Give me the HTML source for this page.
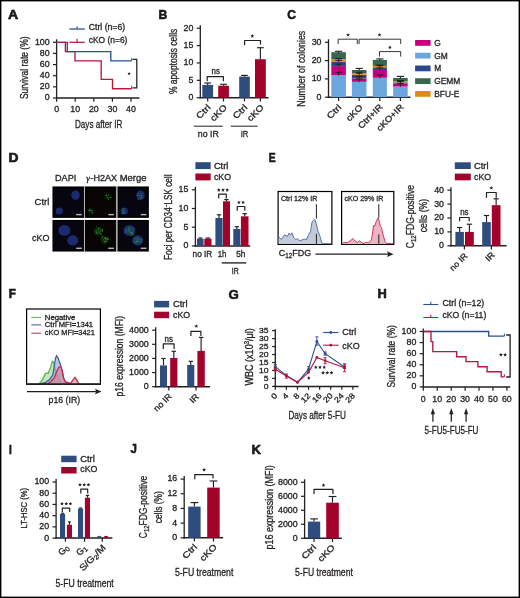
<!DOCTYPE html><html><head><meta charset="utf-8"><style>html,body{margin:0;padding:0;background:#fff}svg{display:block}text{font-family:"Liberation Sans",sans-serif;fill:#231f20;stroke:#231f20;stroke-width:0.3px}svg{will-change:transform}</style></head><body>
<svg width="520" height="598" viewBox="0 0 520 598">
<rect x="0" y="0" width="520" height="598" fill="#fff"/>
<text x="8" y="18.6" font-size="13.2" textLength="10.2" lengthAdjust="spacingAndGlyphs" font-weight="bold" fill="#000" style="stroke:#000;stroke-width:0.55px">A</text>
<text x="158.4" y="18.8" font-size="13.2" textLength="8.8" lengthAdjust="spacingAndGlyphs" font-weight="bold" fill="#000" style="stroke:#000;stroke-width:0.55px">B</text>
<text x="287.2" y="19" font-size="13.2" textLength="8.7" lengthAdjust="spacingAndGlyphs" font-weight="bold" fill="#000" style="stroke:#000;stroke-width:0.55px">C</text>
<text x="8.4" y="161.5" font-size="13.2" textLength="10" lengthAdjust="spacingAndGlyphs" font-weight="bold" fill="#000" style="stroke:#000;stroke-width:0.55px">D</text>
<text x="268.8" y="161.6" font-size="13.2" textLength="6.9" lengthAdjust="spacingAndGlyphs" font-weight="bold" fill="#000" style="stroke:#000;stroke-width:0.55px">E</text>
<text x="8.8" y="298.2" font-size="13.2" textLength="7.1" lengthAdjust="spacingAndGlyphs" font-weight="bold" fill="#000" style="stroke:#000;stroke-width:0.55px">F</text>
<text x="228.6" y="298.7" font-size="13.2" textLength="10.3" lengthAdjust="spacingAndGlyphs" font-weight="bold" fill="#000" style="stroke:#000;stroke-width:0.55px">G</text>
<text x="377.6" y="298.2" font-size="13.2" textLength="9.3" lengthAdjust="spacingAndGlyphs" font-weight="bold" fill="#000" style="stroke:#000;stroke-width:0.55px">H</text>
<text x="9" y="453.5" font-size="13.2" textLength="2.8" lengthAdjust="spacingAndGlyphs" font-weight="bold" fill="#000" style="stroke:#000;stroke-width:0.55px">I</text>
<text x="130.6" y="453.3" font-size="13.2" textLength="6.4" lengthAdjust="spacingAndGlyphs" font-weight="bold" fill="#000" style="stroke:#000;stroke-width:0.55px">J</text>
<text x="251.4" y="454.1" font-size="13.2" textLength="9.5" lengthAdjust="spacingAndGlyphs" font-weight="bold" fill="#000" style="stroke:#000;stroke-width:0.55px">K</text>
<line x1="56.6" y1="39.3" x2="56.6" y2="98.65" stroke="#231f20" stroke-width="1.3"/>
<line x1="53" y1="42.3" x2="56.6" y2="42.3" stroke="#231f20" stroke-width="1.2"/>
<text x="49.6" y="44.7" font-size="8.2" text-anchor="end" textLength="14.7" lengthAdjust="spacingAndGlyphs">100</text>
<line x1="53" y1="53.44" x2="56.6" y2="53.44" stroke="#231f20" stroke-width="1.2"/>
<text x="49.6" y="55.84" font-size="8.2" text-anchor="end" textLength="9.8" lengthAdjust="spacingAndGlyphs">80</text>
<line x1="53" y1="64.58" x2="56.6" y2="64.58" stroke="#231f20" stroke-width="1.2"/>
<text x="49.6" y="66.98" font-size="8.2" text-anchor="end" textLength="9.8" lengthAdjust="spacingAndGlyphs">60</text>
<line x1="53" y1="75.72" x2="56.6" y2="75.72" stroke="#231f20" stroke-width="1.2"/>
<text x="49.6" y="78.12" font-size="8.2" text-anchor="end" textLength="9.8" lengthAdjust="spacingAndGlyphs">40</text>
<line x1="53" y1="86.86" x2="56.6" y2="86.86" stroke="#231f20" stroke-width="1.2"/>
<text x="49.6" y="89.26" font-size="8.2" text-anchor="end" textLength="9.8" lengthAdjust="spacingAndGlyphs">20</text>
<line x1="53" y1="98" x2="56.6" y2="98" stroke="#231f20" stroke-width="1.2"/>
<text x="49.6" y="100.4" font-size="8.2" text-anchor="end" textLength="4.9" lengthAdjust="spacingAndGlyphs">0</text>
<line x1="55.85" y1="98" x2="139.4" y2="98" stroke="#231f20" stroke-width="1.5"/>
<line x1="56.6" y1="98" x2="56.6" y2="101.75" stroke="#231f20" stroke-width="1.2"/>
<line x1="75.2" y1="98" x2="75.2" y2="101.75" stroke="#231f20" stroke-width="1.2"/>
<line x1="93.8" y1="98" x2="93.8" y2="101.75" stroke="#231f20" stroke-width="1.2"/>
<line x1="112.4" y1="98" x2="112.4" y2="101.75" stroke="#231f20" stroke-width="1.2"/>
<line x1="131" y1="98" x2="131" y2="101.75" stroke="#231f20" stroke-width="1.2"/>
<text x="56.6" y="112.2" font-size="8.2" text-anchor="middle" textLength="4.9" lengthAdjust="spacingAndGlyphs">0</text>
<text x="75.2" y="112.2" font-size="8.2" text-anchor="middle" textLength="9.8" lengthAdjust="spacingAndGlyphs">10</text>
<text x="93.8" y="112.2" font-size="8.2" text-anchor="middle" textLength="9.8" lengthAdjust="spacingAndGlyphs">20</text>
<text x="112.4" y="112.2" font-size="8.2" text-anchor="middle" textLength="9.8" lengthAdjust="spacingAndGlyphs">30</text>
<text x="131" y="112.2" font-size="8.2" text-anchor="middle" textLength="9.8" lengthAdjust="spacingAndGlyphs">40</text>
<text x="98.7" y="128" font-size="10.9" text-anchor="middle" textLength="47.5" lengthAdjust="spacingAndGlyphs">Days after IR</text>
<text x="28.1" y="67.8" font-size="10.9" text-anchor="middle" textLength="62.6" lengthAdjust="spacingAndGlyphs" transform="rotate(-90 28.1 67.8)">Survival rate (%)</text>
<path d="M56.6 42.3H67.3V51.59H110.8V60.86H131.7" stroke="#2b4f98" stroke-width="1.35" fill="none"/>
<line x1="131.7" y1="57.86" x2="131.7" y2="60.86" stroke="#2b4f98" stroke-width="1"/>
<path d="M56.6 42.3H65.4V51.59H75V60.86H101.2V79.44H112.5V88.71H131.7" stroke="#b8153f" stroke-width="1.35" fill="none"/>
<line x1="131.7" y1="85.71" x2="131.7" y2="88.71" stroke="#b8153f" stroke-width="1"/>
<line x1="69.4" y1="29" x2="84.8" y2="29" stroke="#2b4f98" stroke-width="1.25"/>
<line x1="77.1" y1="26.2" x2="77.1" y2="29" stroke="#2b4f98" stroke-width="1.1"/>
<text x="88.8" y="30.1" font-size="8.6" textLength="36.3" lengthAdjust="spacingAndGlyphs">Ctrl (n=6)</text>
<line x1="69.4" y1="42.3" x2="84.8" y2="42.3" stroke="#b8153f" stroke-width="1.25"/>
<line x1="77.1" y1="38.8" x2="77.1" y2="42.3" stroke="#b8153f" stroke-width="1.1"/>
<text x="88.8" y="43.2" font-size="8.6" textLength="38.6" lengthAdjust="spacingAndGlyphs">cKO (n=6)</text>
<path d="M132.6 59.3H136.8V87.8H132.6" stroke="#231f20" stroke-width="1.25" fill="none"/>
<path d="M129.1 71.95L129.55 73.03L130.72 73.12L129.83 73.89L130.1 75.03L129.1 74.42L128.1 75.03L128.37 73.89L127.48 73.12L128.65 73.03Z" fill="#231f20"/>
<line x1="200.3" y1="25.2" x2="200.3" y2="98.35" stroke="#231f20" stroke-width="1.3"/>
<line x1="196.7" y1="28.2" x2="200.3" y2="28.2" stroke="#231f20" stroke-width="1.2"/>
<text x="193.3" y="30.6" font-size="8.2" text-anchor="end" textLength="9.8" lengthAdjust="spacingAndGlyphs">20</text>
<line x1="196.7" y1="45.58" x2="200.3" y2="45.58" stroke="#231f20" stroke-width="1.2"/>
<text x="193.3" y="47.98" font-size="8.2" text-anchor="end" textLength="9.8" lengthAdjust="spacingAndGlyphs">15</text>
<line x1="196.7" y1="62.95" x2="200.3" y2="62.95" stroke="#231f20" stroke-width="1.2"/>
<text x="193.3" y="65.35" font-size="8.2" text-anchor="end" textLength="9.8" lengthAdjust="spacingAndGlyphs">10</text>
<line x1="196.7" y1="80.33" x2="200.3" y2="80.33" stroke="#231f20" stroke-width="1.2"/>
<text x="193.3" y="82.73" font-size="8.2" text-anchor="end" textLength="4.9" lengthAdjust="spacingAndGlyphs">5</text>
<line x1="196.7" y1="97.7" x2="200.3" y2="97.7" stroke="#231f20" stroke-width="1.2"/>
<text x="193.3" y="100.1" font-size="8.2" text-anchor="end" textLength="4.9" lengthAdjust="spacingAndGlyphs">0</text>
<line x1="199.55" y1="97.7" x2="268.5" y2="97.7" stroke="#231f20" stroke-width="1.5"/>
<line x1="207.7" y1="97.7" x2="207.7" y2="101.45" stroke="#231f20" stroke-width="1.2"/>
<line x1="223.5" y1="97.7" x2="223.5" y2="101.45" stroke="#231f20" stroke-width="1.2"/>
<line x1="244.5" y1="97.7" x2="244.5" y2="101.45" stroke="#231f20" stroke-width="1.2"/>
<line x1="260.4" y1="97.7" x2="260.4" y2="101.45" stroke="#231f20" stroke-width="1.2"/>
<line x1="207.7" y1="84.9" x2="207.7" y2="83" stroke="#231f20" stroke-width="1.15"/>
<line x1="204.35" y1="83" x2="211.05" y2="83" stroke="#231f20" stroke-width="1.15"/>
<rect x="202.3" y="84.9" width="10.8" height="12.8" fill="#2e4c7e"/>
<line x1="223.55" y1="85.7" x2="223.55" y2="84.3" stroke="#231f20" stroke-width="1.15"/>
<line x1="220.23" y1="84.3" x2="226.87" y2="84.3" stroke="#231f20" stroke-width="1.15"/>
<rect x="218.2" y="85.7" width="10.7" height="12" fill="#a3022a"/>
<line x1="244.5" y1="76.6" x2="244.5" y2="75.4" stroke="#231f20" stroke-width="1.15"/>
<line x1="241.21" y1="75.4" x2="247.79" y2="75.4" stroke="#231f20" stroke-width="1.15"/>
<rect x="239.2" y="76.6" width="10.6" height="21.1" fill="#2e4c7e"/>
<line x1="260.4" y1="59.2" x2="260.4" y2="47.7" stroke="#231f20" stroke-width="1.15"/>
<line x1="257.05" y1="47.7" x2="263.75" y2="47.7" stroke="#231f20" stroke-width="1.15"/>
<rect x="255" y="59.2" width="10.8" height="38.5" fill="#a3022a"/>
<path d="M207.2 81.3V76.6H223.4V81.3" stroke="#231f20" stroke-width="1.2" fill="none" stroke-linejoin="round"/>
<text x="215.7" y="74.4" font-size="8.4" text-anchor="middle" textLength="8.4" lengthAdjust="spacingAndGlyphs">ns</text>
<path d="M244.6 45.3V40.5H260.5V44.6" stroke="#231f20" stroke-width="1.2" fill="none" stroke-linejoin="round"/>
<path d="M252.3 34.05L252.83 35.32L254.2 35.43L253.16 36.33L253.48 37.67L252.3 36.95L251.12 37.67L251.44 36.33L250.4 35.43L251.77 35.32Z" fill="#231f20"/>
<text x="176.6" y="61.4" font-size="10.9" text-anchor="middle" textLength="65.3" lengthAdjust="spacingAndGlyphs" transform="rotate(-90 176.6 61.4)">% apoptosis cells</text>
<text x="211.2" y="107.9" font-size="8.6" text-anchor="end" textLength="16.5" lengthAdjust="spacingAndGlyphs" transform="rotate(-45 211.2 107.9)">Ctrl</text>
<text x="227.5" y="107.9" font-size="8.6" text-anchor="end" textLength="19.5" lengthAdjust="spacingAndGlyphs" transform="rotate(-45 227.5 107.9)">cKO</text>
<text x="248" y="107.9" font-size="8.6" text-anchor="end" textLength="16.5" lengthAdjust="spacingAndGlyphs" transform="rotate(-45 248 107.9)">Ctrl</text>
<text x="264.4" y="107.9" font-size="8.6" text-anchor="end" textLength="19.5" lengthAdjust="spacingAndGlyphs" transform="rotate(-45 264.4 107.9)">cKO</text>
<line x1="193.8" y1="126.2" x2="222.8" y2="126.2" stroke="#231f20" stroke-width="1"/>
<line x1="230.8" y1="126.2" x2="257.7" y2="126.2" stroke="#231f20" stroke-width="1"/>
<text x="208.3" y="137.3" font-size="8.6" text-anchor="middle" textLength="21" lengthAdjust="spacingAndGlyphs">no IR</text>
<text x="244.5" y="137.3" font-size="8.6" text-anchor="middle" textLength="7.6" lengthAdjust="spacingAndGlyphs">IR</text>
<line x1="328.5" y1="39.3" x2="328.5" y2="97.85" stroke="#231f20" stroke-width="1.3"/>
<line x1="324.9" y1="42.3" x2="328.5" y2="42.3" stroke="#231f20" stroke-width="1.2"/>
<text x="321.5" y="44.7" font-size="8.2" text-anchor="end" textLength="9.8" lengthAdjust="spacingAndGlyphs">30</text>
<line x1="324.9" y1="60.6" x2="328.5" y2="60.6" stroke="#231f20" stroke-width="1.2"/>
<text x="321.5" y="63" font-size="8.2" text-anchor="end" textLength="9.8" lengthAdjust="spacingAndGlyphs">20</text>
<line x1="324.9" y1="78.9" x2="328.5" y2="78.9" stroke="#231f20" stroke-width="1.2"/>
<text x="321.5" y="81.3" font-size="8.2" text-anchor="end" textLength="9.8" lengthAdjust="spacingAndGlyphs">10</text>
<line x1="324.9" y1="97.2" x2="328.5" y2="97.2" stroke="#231f20" stroke-width="1.2"/>
<text x="321.5" y="99.6" font-size="8.2" text-anchor="end" textLength="4.9" lengthAdjust="spacingAndGlyphs">0</text>
<line x1="327.75" y1="97.2" x2="410.4" y2="97.2" stroke="#231f20" stroke-width="1.5"/>
<line x1="338.6" y1="97.2" x2="338.6" y2="100.95" stroke="#231f20" stroke-width="1.2"/>
<line x1="359.2" y1="97.2" x2="359.2" y2="100.95" stroke="#231f20" stroke-width="1.2"/>
<line x1="379.8" y1="97.2" x2="379.8" y2="100.95" stroke="#231f20" stroke-width="1.2"/>
<line x1="400.4" y1="97.2" x2="400.4" y2="100.95" stroke="#231f20" stroke-width="1.2"/>
<rect x="331.3" y="75.1" width="14.6" height="22.1" fill="#6ba7de"/>
<rect x="331.3" y="66.1" width="14.6" height="9" fill="#c6007a"/>
<rect x="331.3" y="61.9" width="14.6" height="4.2" fill="#2b4a8b"/>
<rect x="331.3" y="59.3" width="14.6" height="2.6" fill="#e08b17"/>
<rect x="331.3" y="52.2" width="14.6" height="7.1" fill="#366850"/>
<line x1="335" y1="51.3" x2="342.2" y2="51.3" stroke="#231f20" stroke-width="1.1"/>
<line x1="338.6" y1="51.3" x2="338.6" y2="52.7" stroke="#231f20" stroke-width="1.1"/>
<line x1="335.2" y1="72.3" x2="342" y2="72.3" stroke="#231f20" stroke-width="1"/>
<line x1="338.6" y1="72.3" x2="338.6" y2="75.4" stroke="#231f20" stroke-width="1"/>
<line x1="335.2" y1="64.1" x2="342" y2="64.1" stroke="#231f20" stroke-width="1"/>
<line x1="338.6" y1="64.1" x2="338.6" y2="66.4" stroke="#231f20" stroke-width="1"/>
<line x1="335.2" y1="60.3" x2="342" y2="60.3" stroke="#231f20" stroke-width="1"/>
<line x1="338.6" y1="60.3" x2="338.6" y2="62.2" stroke="#231f20" stroke-width="1"/>
<line x1="335.2" y1="58.5" x2="342" y2="58.5" stroke="#231f20" stroke-width="1"/>
<line x1="338.6" y1="58.5" x2="338.6" y2="59.6" stroke="#231f20" stroke-width="1"/>
<rect x="351.9" y="81.8" width="14.6" height="15.4" fill="#6ba7de"/>
<rect x="351.9" y="78.5" width="14.6" height="3.3" fill="#c6007a"/>
<rect x="351.9" y="74.8" width="14.6" height="3.7" fill="#2b4a8b"/>
<rect x="351.9" y="73.1" width="14.6" height="1.7" fill="#e08b17"/>
<rect x="351.9" y="70" width="14.6" height="3.1" fill="#366850"/>
<line x1="355.6" y1="68.4" x2="362.8" y2="68.4" stroke="#231f20" stroke-width="1.1"/>
<line x1="359.2" y1="68.4" x2="359.2" y2="70.5" stroke="#231f20" stroke-width="1.1"/>
<line x1="355.8" y1="79" x2="362.6" y2="79" stroke="#231f20" stroke-width="1"/>
<line x1="359.2" y1="79" x2="359.2" y2="82.1" stroke="#231f20" stroke-width="1"/>
<line x1="355.8" y1="76.5" x2="362.6" y2="76.5" stroke="#231f20" stroke-width="1"/>
<line x1="359.2" y1="76.5" x2="359.2" y2="78.8" stroke="#231f20" stroke-width="1"/>
<line x1="355.8" y1="73.2" x2="362.6" y2="73.2" stroke="#231f20" stroke-width="1"/>
<line x1="359.2" y1="73.2" x2="359.2" y2="75.1" stroke="#231f20" stroke-width="1"/>
<line x1="355.8" y1="72.3" x2="362.6" y2="72.3" stroke="#231f20" stroke-width="1"/>
<line x1="359.2" y1="72.3" x2="359.2" y2="73.4" stroke="#231f20" stroke-width="1"/>
<rect x="372.8" y="77.8" width="14.1" height="19.4" fill="#6ba7de"/>
<rect x="372.8" y="70" width="14.1" height="7.8" fill="#c6007a"/>
<rect x="372.8" y="67.3" width="14.1" height="2.7" fill="#2b4a8b"/>
<rect x="372.8" y="65.9" width="14.1" height="1.4" fill="#e08b17"/>
<rect x="372.8" y="59.9" width="14.1" height="6" fill="#366850"/>
<line x1="376.25" y1="58.9" x2="383.45" y2="58.9" stroke="#231f20" stroke-width="1.1"/>
<line x1="379.85" y1="58.9" x2="379.85" y2="60.4" stroke="#231f20" stroke-width="1.1"/>
<line x1="376.45" y1="75" x2="383.25" y2="75" stroke="#231f20" stroke-width="1"/>
<line x1="379.85" y1="75" x2="379.85" y2="78.1" stroke="#231f20" stroke-width="1"/>
<line x1="376.45" y1="68" x2="383.25" y2="68" stroke="#231f20" stroke-width="1"/>
<line x1="379.85" y1="68" x2="379.85" y2="70.3" stroke="#231f20" stroke-width="1"/>
<line x1="376.45" y1="65.7" x2="383.25" y2="65.7" stroke="#231f20" stroke-width="1"/>
<line x1="379.85" y1="65.7" x2="379.85" y2="67.6" stroke="#231f20" stroke-width="1"/>
<line x1="376.45" y1="65.1" x2="383.25" y2="65.1" stroke="#231f20" stroke-width="1"/>
<line x1="379.85" y1="65.1" x2="379.85" y2="66.2" stroke="#231f20" stroke-width="1"/>
<rect x="393.1" y="86.5" width="14.6" height="10.7" fill="#6ba7de"/>
<rect x="393.1" y="83.6" width="14.6" height="2.9" fill="#c6007a"/>
<rect x="393.1" y="82.4" width="14.6" height="1.2" fill="#2b4a8b"/>
<rect x="393.1" y="81.2" width="14.6" height="1.2" fill="#e08b17"/>
<rect x="393.1" y="78" width="14.6" height="3.2" fill="#366850"/>
<line x1="396.8" y1="76.4" x2="404" y2="76.4" stroke="#231f20" stroke-width="1.1"/>
<line x1="400.4" y1="76.4" x2="400.4" y2="78.5" stroke="#231f20" stroke-width="1.1"/>
<line x1="397" y1="83.7" x2="403.8" y2="83.7" stroke="#231f20" stroke-width="1"/>
<line x1="400.4" y1="83.7" x2="400.4" y2="86.8" stroke="#231f20" stroke-width="1"/>
<line x1="397" y1="81.6" x2="403.8" y2="81.6" stroke="#231f20" stroke-width="1"/>
<line x1="400.4" y1="81.6" x2="400.4" y2="83.9" stroke="#231f20" stroke-width="1"/>
<line x1="397" y1="80.8" x2="403.8" y2="80.8" stroke="#231f20" stroke-width="1"/>
<line x1="400.4" y1="80.8" x2="400.4" y2="82.7" stroke="#231f20" stroke-width="1"/>
<line x1="397" y1="80.4" x2="403.8" y2="80.4" stroke="#231f20" stroke-width="1"/>
<line x1="400.4" y1="80.4" x2="400.4" y2="81.5" stroke="#231f20" stroke-width="1"/>
<path d="M338.2 44.1V39.2H357.3V44.1" stroke="#231f20" stroke-width="0.9" fill="none"/>
<path d="M359.1 44.1V39.2H400.7V44.1" stroke="#231f20" stroke-width="0.9" fill="none"/>
<path d="M348.1 32.95L348.63 34.22L350 34.33L348.96 35.23L349.28 36.57L348.1 35.85L346.92 36.57L347.24 35.23L346.2 34.33L347.57 34.22Z" fill="#231f20"/>
<path d="M379.5 32.95L380.03 34.22L381.4 34.33L380.36 35.23L380.68 36.57L379.5 35.85L378.32 36.57L378.64 35.23L377.6 34.33L378.97 34.22Z" fill="#231f20"/>
<path d="M379.5 56.6V51.6H400.7V56.6" stroke="#231f20" stroke-width="0.9" fill="none"/>
<path d="M389.9 45.45L390.43 46.72L391.8 46.83L390.76 47.73L391.08 49.07L389.9 48.35L388.72 49.07L389.04 47.73L388 46.83L389.37 46.72Z" fill="#231f20"/>
<rect x="415.1" y="40" width="15.5" height="5.8" fill="#c6007a"/>
<text x="434.2" y="45.8" font-size="8.4">G</text>
<rect x="415.1" y="52.75" width="15.5" height="5.8" fill="#6ba7de"/>
<text x="434.2" y="58.55" font-size="8.4">GM</text>
<rect x="415.1" y="65.5" width="15.5" height="5.8" fill="#2b4a8b"/>
<text x="434.2" y="71.3" font-size="8.4">M</text>
<rect x="415.1" y="78.25" width="15.5" height="5.8" fill="#366850"/>
<text x="434.2" y="84.05" font-size="8.4">GEMM</text>
<rect x="415.1" y="91" width="15.5" height="5.8" fill="#e08b17"/>
<text x="434.2" y="96.8" font-size="8.4">BFU-E</text>
<text x="304.6" y="68.7" font-size="10.9" text-anchor="middle" textLength="75.9" lengthAdjust="spacingAndGlyphs" transform="rotate(-90 304.6 68.7)">Number of colonies</text>
<text x="342" y="107.9" font-size="8.6" text-anchor="end" textLength="16.5" lengthAdjust="spacingAndGlyphs" transform="rotate(-45 342 107.9)">Ctrl</text>
<text x="363.2" y="107.9" font-size="8.6" text-anchor="end" textLength="19.5" lengthAdjust="spacingAndGlyphs" transform="rotate(-45 363.2 107.9)">cKO</text>
<text x="383.2" y="107.6" font-size="8.6" text-anchor="end" textLength="30.5" lengthAdjust="spacingAndGlyphs" transform="rotate(-45 383.2 107.6)">Ctrl+IR</text>
<text x="404.1" y="107.6" font-size="8.6" text-anchor="end" textLength="34" lengthAdjust="spacingAndGlyphs" transform="rotate(-45 404.1 107.6)">cKO+IR</text>
<defs><filter id="bl1" x="-50%" y="-50%" width="200%" height="200%"><feGaussianBlur stdDeviation="0.9"/></filter><filter id="bl1b" x="-50%" y="-50%" width="200%" height="200%"><feGaussianBlur stdDeviation="0.6"/></filter><filter id="bl2" x="-50%" y="-50%" width="200%" height="200%"><feGaussianBlur stdDeviation="0.45"/></filter><clipPath id="cpA"><rect x="53" y="187" width="30.6" height="30.3"/></clipPath></defs>
<text x="49.3" y="205.2" font-size="9.6" text-anchor="end" textLength="14.7" lengthAdjust="spacingAndGlyphs">Ctrl</text>
<text x="49.6" y="241" font-size="9.6" text-anchor="end" textLength="17.5" lengthAdjust="spacingAndGlyphs">cKO</text>
<text x="55" y="181.1" font-size="8.6" textLength="21.3" lengthAdjust="spacingAndGlyphs">DAPI</text>
<text x="86.2" y="181.1" font-size="9" style="font-family:&quot;Liberation Serif&quot;,serif;font-style:italic">&#947;</text>
<text x="90.4" y="181.1" font-size="8.6" textLength="26.8" lengthAdjust="spacingAndGlyphs">-H2AX</text>
<text x="119.7" y="181.1" font-size="8.6" textLength="26.8" lengthAdjust="spacingAndGlyphs">Merge</text>
<rect x="53" y="187" width="30.7" height="30.3" fill="#07060f" stroke="#000" stroke-width="1.1"/>
<ellipse cx="75.5" cy="195.2" rx="4.2" ry="4.8" fill="#1c2a72" filter="url(#bl1b)"/>
<ellipse cx="59.3" cy="211" rx="3.6" ry="3.6" fill="#1c2a72" filter="url(#bl1b)"/>
<rect x="76.2" y="213.9" width="5.6" height="1.4" fill="#b8b8b8"/>
<rect x="85.5" y="187" width="30.3" height="30.3" fill="#080404" stroke="#000" stroke-width="1.1"/>
<ellipse cx="108.1" cy="196.4" rx="3.04" ry="3.04" fill="#1c7a1c" opacity="0.2" filter="url(#bl1)"/>
<circle cx="107.47" cy="197.66" r="0.5" fill="#3ccf3c" opacity="0.8" filter="url(#bl2)"/>
<circle cx="110.42" cy="197.53" r="0.41" fill="#3ccf3c" opacity="0.8" filter="url(#bl2)"/>
<circle cx="110.43" cy="197.29" r="0.31" fill="#3ccf3c" opacity="0.8" filter="url(#bl2)"/>
<circle cx="107.04" cy="196.87" r="0.33" fill="#3ccf3c" opacity="0.8" filter="url(#bl2)"/>
<circle cx="105.02" cy="197.98" r="0.34" fill="#3ccf3c" opacity="0.8" filter="url(#bl2)"/>
<circle cx="108.58" cy="199.22" r="0.58" fill="#3ccf3c" opacity="0.8" filter="url(#bl2)"/>
<circle cx="106.19" cy="195.4" r="0.59" fill="#3ccf3c" opacity="0.8" filter="url(#bl2)"/>
<circle cx="111.51" cy="197.43" r="0.39" fill="#3ccf3c" opacity="0.8" filter="url(#bl2)"/>
<circle cx="108.91" cy="197.43" r="0.39" fill="#3ccf3c" opacity="0.8" filter="url(#bl2)"/>
<circle cx="108.71" cy="195.03" r="0.47" fill="#3ccf3c" opacity="0.8" filter="url(#bl2)"/>
<circle cx="106.76" cy="194.8" r="0.46" fill="#3ccf3c" opacity="0.8" filter="url(#bl2)"/>
<ellipse cx="91" cy="211.6" rx="2.56" ry="2.56" fill="#1c7a1c" opacity="0.2" filter="url(#bl1)"/>
<circle cx="91.88" cy="211.97" r="0.36" fill="#3ccf3c" opacity="0.8" filter="url(#bl2)"/>
<circle cx="90.2" cy="209.88" r="0.39" fill="#3ccf3c" opacity="0.8" filter="url(#bl2)"/>
<circle cx="89.32" cy="210.6" r="0.39" fill="#3ccf3c" opacity="0.8" filter="url(#bl2)"/>
<circle cx="91.71" cy="209.11" r="0.37" fill="#3ccf3c" opacity="0.8" filter="url(#bl2)"/>
<circle cx="89.09" cy="210.63" r="0.56" fill="#3ccf3c" opacity="0.8" filter="url(#bl2)"/>
<circle cx="90.8" cy="210.08" r="0.59" fill="#3ccf3c" opacity="0.8" filter="url(#bl2)"/>
<circle cx="92.38" cy="212.86" r="0.53" fill="#3ccf3c" opacity="0.8" filter="url(#bl2)"/>
<circle cx="92.19" cy="213.27" r="0.31" fill="#3ccf3c" opacity="0.8" filter="url(#bl2)"/>
<circle cx="89.64" cy="209.2" r="0.47" fill="#3ccf3c" opacity="0.8" filter="url(#bl2)"/>
<circle cx="92.14" cy="210.47" r="0.51" fill="#3ccf3c" opacity="0.8" filter="url(#bl2)"/>
<circle cx="89.11" cy="210.32" r="0.44" fill="#3ccf3c" opacity="0.8" filter="url(#bl2)"/>
<rect x="108.3" y="213.9" width="5.6" height="1.4" fill="#b8b8b8"/>
<rect x="118" y="187" width="30.3" height="30.3" fill="#07060f" stroke="#000" stroke-width="1.1"/>
<ellipse cx="140.5" cy="195.2" rx="4.2" ry="4.8" fill="#1c2a72" filter="url(#bl1b)"/>
<ellipse cx="124.3" cy="211" rx="3.6" ry="3.6" fill="#1c2a72" filter="url(#bl1b)"/>
<ellipse cx="140.6" cy="196.4" rx="3.04" ry="3.04" fill="#1c7a1c" opacity="0.15" filter="url(#bl1)"/>
<circle cx="142.65" cy="193.17" r="0.44" fill="#3ccf3c" opacity="0.6" filter="url(#bl2)"/>
<circle cx="140.02" cy="195.43" r="0.51" fill="#3ccf3c" opacity="0.6" filter="url(#bl2)"/>
<circle cx="138.21" cy="193.23" r="0.55" fill="#3ccf3c" opacity="0.6" filter="url(#bl2)"/>
<circle cx="140.14" cy="198.47" r="0.5" fill="#3ccf3c" opacity="0.6" filter="url(#bl2)"/>
<circle cx="142.93" cy="196.73" r="0.35" fill="#3ccf3c" opacity="0.6" filter="url(#bl2)"/>
<circle cx="141.44" cy="197.16" r="0.53" fill="#3ccf3c" opacity="0.6" filter="url(#bl2)"/>
<circle cx="141.77" cy="197.64" r="0.42" fill="#3ccf3c" opacity="0.6" filter="url(#bl2)"/>
<circle cx="141.43" cy="195.54" r="0.43" fill="#3ccf3c" opacity="0.6" filter="url(#bl2)"/>
<circle cx="137.14" cy="195.29" r="0.55" fill="#3ccf3c" opacity="0.6" filter="url(#bl2)"/>
<circle cx="141.78" cy="195.04" r="0.42" fill="#3ccf3c" opacity="0.6" filter="url(#bl2)"/>
<circle cx="138.3" cy="199.22" r="0.59" fill="#3ccf3c" opacity="0.6" filter="url(#bl2)"/>
<ellipse cx="123.5" cy="211.6" rx="2.56" ry="2.56" fill="#1c7a1c" opacity="0.15" filter="url(#bl1)"/>
<circle cx="124.23" cy="212.62" r="0.37" fill="#3ccf3c" opacity="0.6" filter="url(#bl2)"/>
<circle cx="123.71" cy="213.63" r="0.48" fill="#3ccf3c" opacity="0.6" filter="url(#bl2)"/>
<circle cx="123.44" cy="212.41" r="0.43" fill="#3ccf3c" opacity="0.6" filter="url(#bl2)"/>
<circle cx="121.97" cy="213.25" r="0.59" fill="#3ccf3c" opacity="0.6" filter="url(#bl2)"/>
<circle cx="122.73" cy="209.63" r="0.49" fill="#3ccf3c" opacity="0.6" filter="url(#bl2)"/>
<circle cx="123.08" cy="210.76" r="0.57" fill="#3ccf3c" opacity="0.6" filter="url(#bl2)"/>
<circle cx="124.07" cy="208.61" r="0.54" fill="#3ccf3c" opacity="0.6" filter="url(#bl2)"/>
<circle cx="122.08" cy="212.74" r="0.33" fill="#3ccf3c" opacity="0.6" filter="url(#bl2)"/>
<circle cx="122.86" cy="210.88" r="0.32" fill="#3ccf3c" opacity="0.6" filter="url(#bl2)"/>
<circle cx="123.81" cy="212.77" r="0.4" fill="#3ccf3c" opacity="0.6" filter="url(#bl2)"/>
<circle cx="124.26" cy="211.86" r="0.35" fill="#3ccf3c" opacity="0.6" filter="url(#bl2)"/>
<rect x="140.8" y="213.9" width="5.6" height="1.4" fill="#b8b8b8"/>
<rect x="53" y="220.5" width="30.7" height="30.5" fill="#07060f" stroke="#000" stroke-width="1.1"/>
<ellipse cx="64.4" cy="230.4" rx="6" ry="5.4" fill="#1c2a72" filter="url(#bl1b)"/>
<ellipse cx="72.7" cy="240.4" rx="5.5" ry="5.2" fill="#1c2a72" filter="url(#bl1b)"/>
<rect x="76.2" y="247.6" width="5.6" height="1.4" fill="#b8b8b8"/>
<rect x="85.5" y="220.5" width="30.3" height="30.5" fill="#080404" stroke="#000" stroke-width="1.1"/>
<ellipse cx="98" cy="231.3" rx="3.6" ry="3.6" fill="#1c7a1c" opacity="0.45" filter="url(#bl1)"/>
<circle cx="99.96" cy="232.75" r="0.31" fill="#3ccf3c" opacity="0.8" filter="url(#bl2)"/>
<circle cx="100.35" cy="228.93" r="0.34" fill="#3ccf3c" opacity="0.8" filter="url(#bl2)"/>
<circle cx="97.97" cy="233.68" r="0.41" fill="#3ccf3c" opacity="0.8" filter="url(#bl2)"/>
<circle cx="101" cy="234.22" r="0.6" fill="#3ccf3c" opacity="0.8" filter="url(#bl2)"/>
<circle cx="95.2" cy="231.91" r="0.33" fill="#3ccf3c" opacity="0.8" filter="url(#bl2)"/>
<circle cx="99.89" cy="232.71" r="0.38" fill="#3ccf3c" opacity="0.8" filter="url(#bl2)"/>
<circle cx="98.81" cy="229.8" r="0.31" fill="#3ccf3c" opacity="0.8" filter="url(#bl2)"/>
<circle cx="100.88" cy="230.38" r="0.34" fill="#3ccf3c" opacity="0.8" filter="url(#bl2)"/>
<circle cx="96.82" cy="230.97" r="0.46" fill="#3ccf3c" opacity="0.8" filter="url(#bl2)"/>
<circle cx="102.19" cy="230.73" r="0.51" fill="#3ccf3c" opacity="0.8" filter="url(#bl2)"/>
<circle cx="97.83" cy="233.74" r="0.35" fill="#3ccf3c" opacity="0.8" filter="url(#bl2)"/>
<circle cx="98.42" cy="228.29" r="0.53" fill="#3ccf3c" opacity="0.8" filter="url(#bl2)"/>
<circle cx="97.07" cy="232.99" r="0.54" fill="#3ccf3c" opacity="0.8" filter="url(#bl2)"/>
<circle cx="102.18" cy="230.9" r="0.54" fill="#3ccf3c" opacity="0.8" filter="url(#bl2)"/>
<circle cx="99.58" cy="227.86" r="0.37" fill="#3ccf3c" opacity="0.8" filter="url(#bl2)"/>
<circle cx="95.61" cy="231.03" r="0.31" fill="#3ccf3c" opacity="0.8" filter="url(#bl2)"/>
<circle cx="100.1" cy="231.67" r="0.38" fill="#3ccf3c" opacity="0.8" filter="url(#bl2)"/>
<circle cx="96.39" cy="227.03" r="0.43" fill="#3ccf3c" opacity="0.8" filter="url(#bl2)"/>
<circle cx="102.32" cy="229.49" r="0.59" fill="#3ccf3c" opacity="0.8" filter="url(#bl2)"/>
<circle cx="96.73" cy="232.74" r="0.37" fill="#3ccf3c" opacity="0.8" filter="url(#bl2)"/>
<ellipse cx="104.8" cy="240" rx="3.36" ry="3.36" fill="#1c7a1c" opacity="0.45" filter="url(#bl1)"/>
<circle cx="105.37" cy="241.64" r="0.49" fill="#3ccf3c" opacity="0.8" filter="url(#bl2)"/>
<circle cx="107.94" cy="237.73" r="0.44" fill="#3ccf3c" opacity="0.8" filter="url(#bl2)"/>
<circle cx="102.66" cy="236.94" r="0.33" fill="#3ccf3c" opacity="0.8" filter="url(#bl2)"/>
<circle cx="102.61" cy="236.52" r="0.53" fill="#3ccf3c" opacity="0.8" filter="url(#bl2)"/>
<circle cx="104.8" cy="237.34" r="0.35" fill="#3ccf3c" opacity="0.8" filter="url(#bl2)"/>
<circle cx="105.33" cy="237.9" r="0.54" fill="#3ccf3c" opacity="0.8" filter="url(#bl2)"/>
<circle cx="107.14" cy="239.58" r="0.42" fill="#3ccf3c" opacity="0.8" filter="url(#bl2)"/>
<circle cx="108.09" cy="238.86" r="0.35" fill="#3ccf3c" opacity="0.8" filter="url(#bl2)"/>
<circle cx="105.89" cy="241.12" r="0.57" fill="#3ccf3c" opacity="0.8" filter="url(#bl2)"/>
<circle cx="105.34" cy="238.55" r="0.55" fill="#3ccf3c" opacity="0.8" filter="url(#bl2)"/>
<circle cx="108.03" cy="239.6" r="0.41" fill="#3ccf3c" opacity="0.8" filter="url(#bl2)"/>
<circle cx="103.38" cy="239.55" r="0.3" fill="#3ccf3c" opacity="0.8" filter="url(#bl2)"/>
<circle cx="107.98" cy="239.41" r="0.46" fill="#3ccf3c" opacity="0.8" filter="url(#bl2)"/>
<circle cx="107.09" cy="238.98" r="0.56" fill="#3ccf3c" opacity="0.8" filter="url(#bl2)"/>
<circle cx="105.61" cy="238.44" r="0.38" fill="#3ccf3c" opacity="0.8" filter="url(#bl2)"/>
<circle cx="104.3" cy="241.79" r="0.48" fill="#3ccf3c" opacity="0.8" filter="url(#bl2)"/>
<circle cx="104.66" cy="242.45" r="0.34" fill="#3ccf3c" opacity="0.8" filter="url(#bl2)"/>
<circle cx="106.69" cy="238.8" r="0.44" fill="#3ccf3c" opacity="0.8" filter="url(#bl2)"/>
<circle cx="101.26" cy="237.96" r="0.43" fill="#3ccf3c" opacity="0.8" filter="url(#bl2)"/>
<circle cx="107.18" cy="238.65" r="0.46" fill="#3ccf3c" opacity="0.8" filter="url(#bl2)"/>
<rect x="108.3" y="247.6" width="5.6" height="1.4" fill="#b8b8b8"/>
<rect x="118" y="220.5" width="30.3" height="30.5" fill="#07060f" stroke="#000" stroke-width="1.1"/>
<ellipse cx="129.4" cy="230.4" rx="6" ry="5.4" fill="#1c2a72" filter="url(#bl1b)"/>
<ellipse cx="137.7" cy="240.4" rx="5.5" ry="5.2" fill="#1c2a72" filter="url(#bl1b)"/>
<ellipse cx="130.5" cy="231.3" rx="3.6" ry="3.6" fill="#1c7a1c" opacity="0.34" filter="url(#bl1)"/>
<circle cx="129.32" cy="231.12" r="0.43" fill="#3ccf3c" opacity="0.6" filter="url(#bl2)"/>
<circle cx="130.96" cy="232.34" r="0.54" fill="#3ccf3c" opacity="0.6" filter="url(#bl2)"/>
<circle cx="131.83" cy="233.8" r="0.52" fill="#3ccf3c" opacity="0.6" filter="url(#bl2)"/>
<circle cx="128.34" cy="230.5" r="0.46" fill="#3ccf3c" opacity="0.6" filter="url(#bl2)"/>
<circle cx="126.79" cy="229.95" r="0.33" fill="#3ccf3c" opacity="0.6" filter="url(#bl2)"/>
<circle cx="128.62" cy="230.55" r="0.38" fill="#3ccf3c" opacity="0.6" filter="url(#bl2)"/>
<circle cx="130.91" cy="228.38" r="0.47" fill="#3ccf3c" opacity="0.6" filter="url(#bl2)"/>
<circle cx="130.78" cy="226.9" r="0.43" fill="#3ccf3c" opacity="0.6" filter="url(#bl2)"/>
<circle cx="128.26" cy="229.39" r="0.45" fill="#3ccf3c" opacity="0.6" filter="url(#bl2)"/>
<circle cx="129.53" cy="228.72" r="0.46" fill="#3ccf3c" opacity="0.6" filter="url(#bl2)"/>
<circle cx="126.03" cy="231.92" r="0.51" fill="#3ccf3c" opacity="0.6" filter="url(#bl2)"/>
<circle cx="133.72" cy="228.14" r="0.38" fill="#3ccf3c" opacity="0.6" filter="url(#bl2)"/>
<circle cx="126.29" cy="229.65" r="0.55" fill="#3ccf3c" opacity="0.6" filter="url(#bl2)"/>
<circle cx="131.52" cy="232.49" r="0.43" fill="#3ccf3c" opacity="0.6" filter="url(#bl2)"/>
<circle cx="132.29" cy="232.18" r="0.32" fill="#3ccf3c" opacity="0.6" filter="url(#bl2)"/>
<circle cx="128.59" cy="227.85" r="0.57" fill="#3ccf3c" opacity="0.6" filter="url(#bl2)"/>
<circle cx="132.59" cy="234.36" r="0.5" fill="#3ccf3c" opacity="0.6" filter="url(#bl2)"/>
<circle cx="133.18" cy="234.67" r="0.59" fill="#3ccf3c" opacity="0.6" filter="url(#bl2)"/>
<circle cx="131.37" cy="235.77" r="0.42" fill="#3ccf3c" opacity="0.6" filter="url(#bl2)"/>
<circle cx="125.83" cy="231.68" r="0.55" fill="#3ccf3c" opacity="0.6" filter="url(#bl2)"/>
<ellipse cx="137.3" cy="240" rx="3.36" ry="3.36" fill="#1c7a1c" opacity="0.34" filter="url(#bl1)"/>
<circle cx="138.62" cy="242.12" r="0.45" fill="#3ccf3c" opacity="0.6" filter="url(#bl2)"/>
<circle cx="136.39" cy="241.45" r="0.4" fill="#3ccf3c" opacity="0.6" filter="url(#bl2)"/>
<circle cx="137.11" cy="238.9" r="0.47" fill="#3ccf3c" opacity="0.6" filter="url(#bl2)"/>
<circle cx="136.27" cy="240.41" r="0.4" fill="#3ccf3c" opacity="0.6" filter="url(#bl2)"/>
<circle cx="135.33" cy="238.05" r="0.32" fill="#3ccf3c" opacity="0.6" filter="url(#bl2)"/>
<circle cx="140.98" cy="239.65" r="0.59" fill="#3ccf3c" opacity="0.6" filter="url(#bl2)"/>
<circle cx="138.84" cy="241.19" r="0.31" fill="#3ccf3c" opacity="0.6" filter="url(#bl2)"/>
<circle cx="137.65" cy="238.07" r="0.34" fill="#3ccf3c" opacity="0.6" filter="url(#bl2)"/>
<circle cx="133.67" cy="241.93" r="0.55" fill="#3ccf3c" opacity="0.6" filter="url(#bl2)"/>
<circle cx="137.22" cy="241.55" r="0.58" fill="#3ccf3c" opacity="0.6" filter="url(#bl2)"/>
<circle cx="134.23" cy="238.54" r="0.33" fill="#3ccf3c" opacity="0.6" filter="url(#bl2)"/>
<circle cx="140.45" cy="241.19" r="0.43" fill="#3ccf3c" opacity="0.6" filter="url(#bl2)"/>
<circle cx="141.08" cy="241.85" r="0.49" fill="#3ccf3c" opacity="0.6" filter="url(#bl2)"/>
<circle cx="137.72" cy="238.74" r="0.56" fill="#3ccf3c" opacity="0.6" filter="url(#bl2)"/>
<circle cx="140.91" cy="241.61" r="0.44" fill="#3ccf3c" opacity="0.6" filter="url(#bl2)"/>
<circle cx="135.75" cy="242.46" r="0.58" fill="#3ccf3c" opacity="0.6" filter="url(#bl2)"/>
<circle cx="137.13" cy="241.47" r="0.46" fill="#3ccf3c" opacity="0.6" filter="url(#bl2)"/>
<circle cx="137.4" cy="241.41" r="0.35" fill="#3ccf3c" opacity="0.6" filter="url(#bl2)"/>
<circle cx="138.94" cy="240.54" r="0.39" fill="#3ccf3c" opacity="0.6" filter="url(#bl2)"/>
<circle cx="136.08" cy="243.39" r="0.39" fill="#3ccf3c" opacity="0.6" filter="url(#bl2)"/>
<rect x="140.8" y="247.6" width="5.6" height="1.4" fill="#b8b8b8"/>
<line x1="195.4" y1="186.8" x2="195.4" y2="246.55" stroke="#231f20" stroke-width="1.3"/>
<line x1="191.8" y1="189.8" x2="195.4" y2="189.8" stroke="#231f20" stroke-width="1.2"/>
<text x="188.4" y="192.2" font-size="8.2" text-anchor="end" textLength="9.8" lengthAdjust="spacingAndGlyphs">15</text>
<line x1="191.8" y1="208.5" x2="195.4" y2="208.5" stroke="#231f20" stroke-width="1.2"/>
<text x="188.4" y="210.9" font-size="8.2" text-anchor="end" textLength="9.8" lengthAdjust="spacingAndGlyphs">10</text>
<line x1="191.8" y1="227.2" x2="195.4" y2="227.2" stroke="#231f20" stroke-width="1.2"/>
<text x="188.4" y="229.6" font-size="8.2" text-anchor="end" textLength="4.9" lengthAdjust="spacingAndGlyphs">5</text>
<line x1="191.8" y1="245.9" x2="195.4" y2="245.9" stroke="#231f20" stroke-width="1.2"/>
<text x="188.4" y="248.3" font-size="8.2" text-anchor="end" textLength="4.9" lengthAdjust="spacingAndGlyphs">0</text>
<line x1="194.65" y1="245.9" x2="250.2" y2="245.9" stroke="#231f20" stroke-width="1.5"/>
<line x1="200.3" y1="238.7" x2="200.3" y2="238" stroke="#231f20" stroke-width="1.15"/>
<line x1="198.25" y1="238" x2="202.35" y2="238" stroke="#231f20" stroke-width="1.15"/>
<rect x="197" y="238.7" width="6.6" height="7.2" fill="#2e4c7e"/>
<line x1="207.9" y1="238.7" x2="207.9" y2="238" stroke="#231f20" stroke-width="1.15"/>
<line x1="205.67" y1="238" x2="210.13" y2="238" stroke="#231f20" stroke-width="1.15"/>
<rect x="204.3" y="238.7" width="7.2" height="7.2" fill="#a3022a"/>
<line x1="219" y1="218" x2="219" y2="214.8" stroke="#231f20" stroke-width="1.15"/>
<line x1="216.77" y1="214.8" x2="221.23" y2="214.8" stroke="#231f20" stroke-width="1.15"/>
<rect x="215.4" y="218" width="7.2" height="27.9" fill="#2e4c7e"/>
<line x1="226.5" y1="201.3" x2="226.5" y2="199.6" stroke="#231f20" stroke-width="1.15"/>
<line x1="224.33" y1="199.6" x2="228.67" y2="199.6" stroke="#231f20" stroke-width="1.15"/>
<rect x="223" y="201.3" width="7" height="44.6" fill="#a3022a"/>
<line x1="236.85" y1="228.9" x2="236.85" y2="226.7" stroke="#231f20" stroke-width="1.15"/>
<line x1="234.65" y1="226.7" x2="239.05" y2="226.7" stroke="#231f20" stroke-width="1.15"/>
<rect x="233.3" y="228.9" width="7.1" height="17" fill="#2e4c7e"/>
<line x1="244.7" y1="216.3" x2="244.7" y2="213.7" stroke="#231f20" stroke-width="1.15"/>
<line x1="242.34" y1="213.7" x2="247.06" y2="213.7" stroke="#231f20" stroke-width="1.15"/>
<rect x="240.9" y="216.3" width="7.6" height="29.6" fill="#a3022a"/>
<path d="M218.7 198.5V194.1H226.3V198.5" stroke="#231f20" stroke-width="1.2" fill="none" stroke-linejoin="round"/>
<path d="M237.2 210.8V206.5H244.8V210.8" stroke="#231f20" stroke-width="1.2" fill="none" stroke-linejoin="round"/>
<path d="M218.8 188.05L219.33 189.32L220.7 189.43L219.66 190.33L219.98 191.67L218.8 190.95L217.62 191.67L217.94 190.33L216.9 189.43L218.27 189.32Z" fill="#231f20"/>
<path d="M223 188.05L223.53 189.32L224.9 189.43L223.86 190.33L224.18 191.67L223 190.95L221.82 191.67L222.14 190.33L221.1 189.43L222.47 189.32Z" fill="#231f20"/>
<path d="M227.2 188.05L227.73 189.32L229.1 189.43L228.06 190.33L228.38 191.67L227.2 190.95L226.02 191.67L226.34 190.33L225.3 189.43L226.67 189.32Z" fill="#231f20"/>
<path d="M238.9 200.45L239.43 201.72L240.8 201.83L239.76 202.73L240.08 204.07L238.9 203.35L237.72 204.07L238.04 202.73L237 201.83L238.37 201.72Z" fill="#231f20"/>
<path d="M243.1 200.45L243.63 201.72L245 201.83L243.96 202.73L244.28 204.07L243.1 203.35L241.92 204.07L242.24 202.73L241.2 201.83L242.57 201.72Z" fill="#231f20"/>
<rect x="195.4" y="162.2" width="15.3" height="6.9" fill="#2e4c7e"/>
<text x="213.9" y="168.5" font-size="8.6" textLength="14.5" lengthAdjust="spacingAndGlyphs">Ctrl</text>
<rect x="195.4" y="173.5" width="15.3" height="6.9" fill="#a3022a"/>
<text x="213.9" y="179.6" font-size="8.6" textLength="17.2" lengthAdjust="spacingAndGlyphs">cKO</text>
<text x="202.4" y="257.2" font-size="8.6" text-anchor="middle" textLength="19.6" lengthAdjust="spacingAndGlyphs">no IR</text>
<text x="222" y="257.2" font-size="8.6" text-anchor="middle" textLength="8.7" lengthAdjust="spacingAndGlyphs">1h</text>
<text x="240.7" y="257.2" font-size="8.6" text-anchor="middle" textLength="9.1" lengthAdjust="spacingAndGlyphs">5h</text>
<line x1="221.7" y1="262.9" x2="246.3" y2="262.9" stroke="#231f20" stroke-width="1.35"/>
<text x="235.2" y="273.5" font-size="8.6" text-anchor="middle" textLength="7" lengthAdjust="spacingAndGlyphs">IR</text>
<text x="0" y="0" transform="translate(171.5 217.3) rotate(-90) translate(-42.8 0) scale(0.7877 1)"><tspan font-size="10.4" dy="0">Foci per CD34</tspan><tspan font-size="6.24" dy="-3.6">&#8211;</tspan><tspan font-size="10.4" dy="3.6">LSK cell</tspan></text>
<rect x="278.1" y="191.5" width="53.8" height="52.9" fill="#fff" stroke="#000" stroke-width="1.2"/>
<path d="M278.7 243.8L278.8 236.9L281.3 239.4L284.4 235L287.5 236.3L289 233.1L290.6 235L291.9 232.8L293.8 237.5L295.6 239.4L297.5 238.8L299.4 240.6L301.9 240L304.4 239L306.3 239.8L308.8 234.4L310.6 231.3L311.9 222.5L313.1 220.6L314.8 219.4L316.3 223.8L318.1 231.3L320 236.3L321.9 243.1L323.1 243.6L331.3 243.8Z" stroke="none" stroke-width="0" fill="#c4cad9"/>
<path d="M278.8 236.9L281.3 239.4L284.4 235L287.5 236.3L289 233.1L290.6 235L291.9 232.8L293.8 237.5L295.6 239.4L297.5 238.8L299.4 240.6L301.9 240L304.4 239L306.3 239.8L308.8 234.4L310.6 231.3L311.9 222.5L313.1 220.6L314.8 219.4L316.3 223.8L318.1 231.3L320 236.3L321.9 243.1L323.1 243.6L331.3 243.8" stroke="#4b6aa2" stroke-width="0.9" fill="none"/>
<text x="280.9" y="200.9" font-size="7.4" textLength="36.5" lengthAdjust="spacingAndGlyphs">Ctrl 12% IR</text>
<line x1="316.4" y1="204.2" x2="316.4" y2="218.6" stroke="#231f20" stroke-width="1"/>
<line x1="316.4" y1="233.8" x2="316.4" y2="244" stroke="#231f20" stroke-width="1"/>
<rect x="341.6" y="191.5" width="52.2" height="52.9" fill="#fff" stroke="#000" stroke-width="1.2"/>
<path d="M342.2 243.8L342.5 242.8L347.5 242.5L350.6 240.6L352.9 238.5L355 241L357.5 242.5L359.6 240.9L361.9 242.8L363.8 243.5L366.3 242.3L368.8 242.8L371.3 240L372.5 233.8L373.5 225.6L374.8 226L376.3 221.3L378.1 217.8L379.4 221.3L380.3 226.3L381.5 227.5L383.1 235L385 241.3L386.3 243.5L393.2 243.8Z" stroke="none" stroke-width="0" fill="#ebb6c4"/>
<path d="M342.5 242.8L347.5 242.5L350.6 240.6L352.9 238.5L355 241L357.5 242.5L359.6 240.9L361.9 242.8L363.8 243.5L366.3 242.3L368.8 242.8L371.3 240L372.5 233.8L373.5 225.6L374.8 226L376.3 221.3L378.1 217.8L379.4 221.3L380.3 226.3L381.5 227.5L383.1 235L385 241.3L386.3 243.5L393.2 243.8" stroke="#c8284c" stroke-width="0.9" fill="none"/>
<text x="344.4" y="200.9" font-size="7.4" textLength="39" lengthAdjust="spacingAndGlyphs">cKO 29% IR</text>
<line x1="378.8" y1="204.2" x2="378.8" y2="217.8" stroke="#231f20" stroke-width="1"/>
<line x1="378.8" y1="234.4" x2="378.8" y2="244" stroke="#231f20" stroke-width="1"/>
<text x="0" y="0" transform="translate(278.8 255.8) translate(0 0) scale(0.9602 1)"><tspan font-size="9.4" dy="0">C</tspan><tspan font-size="6.58" dy="1.9">12</tspan><tspan font-size="9.4" dy="-1.9">FDG</tspan></text>
<line x1="315.4" y1="254.2" x2="389" y2="254.2" stroke="#231f20" stroke-width="1.3"/>
<path d="M386.9 251.3L393.5 254.2L386.9 257.1L388.3 254.2Z" stroke="none" stroke-width="0" fill="#231f20"/>
<line x1="451" y1="187.2" x2="451" y2="246.45" stroke="#231f20" stroke-width="1.3"/>
<line x1="447.4" y1="190.2" x2="451" y2="190.2" stroke="#231f20" stroke-width="1.2"/>
<text x="444" y="192.6" font-size="8.2" text-anchor="end" textLength="9.8" lengthAdjust="spacingAndGlyphs">40</text>
<line x1="447.4" y1="204.1" x2="451" y2="204.1" stroke="#231f20" stroke-width="1.2"/>
<text x="444" y="206.5" font-size="8.2" text-anchor="end" textLength="9.8" lengthAdjust="spacingAndGlyphs">30</text>
<line x1="447.4" y1="218" x2="451" y2="218" stroke="#231f20" stroke-width="1.2"/>
<text x="444" y="220.4" font-size="8.2" text-anchor="end" textLength="9.8" lengthAdjust="spacingAndGlyphs">20</text>
<line x1="447.4" y1="231.9" x2="451" y2="231.9" stroke="#231f20" stroke-width="1.2"/>
<text x="444" y="234.3" font-size="8.2" text-anchor="end" textLength="9.8" lengthAdjust="spacingAndGlyphs">10</text>
<line x1="447.4" y1="245.8" x2="451" y2="245.8" stroke="#231f20" stroke-width="1.2"/>
<text x="444" y="248.2" font-size="8.2" text-anchor="end" textLength="4.9" lengthAdjust="spacingAndGlyphs">0</text>
<line x1="450.25" y1="245.8" x2="506.6" y2="245.8" stroke="#231f20" stroke-width="1.5"/>
<line x1="464.4" y1="245.8" x2="464.4" y2="249.55" stroke="#231f20" stroke-width="1.2"/>
<line x1="491.4" y1="245.8" x2="491.4" y2="249.55" stroke="#231f20" stroke-width="1.2"/>
<line x1="459.65" y1="231.9" x2="459.65" y2="227.5" stroke="#231f20" stroke-width="1.15"/>
<line x1="457.01" y1="227.5" x2="462.28" y2="227.5" stroke="#231f20" stroke-width="1.15"/>
<rect x="455.4" y="231.9" width="8.5" height="13.9" fill="#2e4c7e"/>
<line x1="469.4" y1="231.9" x2="469.4" y2="224.2" stroke="#231f20" stroke-width="1.15"/>
<line x1="466.67" y1="224.2" x2="472.13" y2="224.2" stroke="#231f20" stroke-width="1.15"/>
<rect x="465" y="231.9" width="8.8" height="13.9" fill="#a3022a"/>
<line x1="486.5" y1="222.1" x2="486.5" y2="215.5" stroke="#231f20" stroke-width="1.15"/>
<line x1="483.83" y1="215.5" x2="489.17" y2="215.5" stroke="#231f20" stroke-width="1.15"/>
<rect x="482.2" y="222.1" width="8.6" height="23.7" fill="#2e4c7e"/>
<line x1="496.15" y1="205.2" x2="496.15" y2="198.8" stroke="#231f20" stroke-width="1.15"/>
<line x1="493.45" y1="198.8" x2="498.85" y2="198.8" stroke="#231f20" stroke-width="1.15"/>
<rect x="491.8" y="205.2" width="8.7" height="40.6" fill="#a3022a"/>
<path d="M459.6 221.3V217.5H469.2V221.3" stroke="#231f20" stroke-width="1.2" fill="none" stroke-linejoin="round"/>
<text x="464.4" y="214.6" font-size="8.4" text-anchor="middle" textLength="8.4" lengthAdjust="spacingAndGlyphs">ns</text>
<path d="M486.5 197.7V192.5H496.2V197.7" stroke="#231f20" stroke-width="1.2" fill="none" stroke-linejoin="round"/>
<path d="M491.3 185.95L491.83 187.22L493.2 187.33L492.16 188.23L492.48 189.57L491.3 188.85L490.12 189.57L490.44 188.23L489.4 187.33L490.77 187.22Z" fill="#231f20"/>
<rect x="454.8" y="162.3" width="16" height="6.7" fill="#2e4c7e"/>
<text x="474" y="168.5" font-size="8.6" textLength="14.5" lengthAdjust="spacingAndGlyphs">Ctrl</text>
<rect x="454.8" y="173.6" width="16" height="6.7" fill="#a3022a"/>
<text x="474" y="179.6" font-size="8.6" textLength="17.2" lengthAdjust="spacingAndGlyphs">cKO</text>
<text x="0" y="0" transform="translate(414 216.6) rotate(-90) translate(-31.75 0) scale(0.8167 1)"><tspan font-size="10.6" dy="0">C</tspan><tspan font-size="7.42" dy="1.9">12</tspan><tspan font-size="10.6" dy="-1.9">FDG-positive</tspan></text>
<text x="427.3" y="215.5" font-size="10.6" text-anchor="middle" textLength="33.5" lengthAdjust="spacingAndGlyphs" transform="rotate(-90 427.3 215.5)">cells (%)</text>
<text x="467.9" y="256.6" font-size="8.4" text-anchor="end" textLength="21" lengthAdjust="spacingAndGlyphs" transform="rotate(-45 467.9 256.6)">no IR</text>
<text x="495.3" y="255.4" font-size="8.6" text-anchor="end" textLength="9.3" lengthAdjust="spacingAndGlyphs" transform="rotate(-45 495.3 255.4)">IR</text>
<rect x="26.6" y="309" width="73.8" height="75.3" fill="#fff" stroke="#000" stroke-width="1.2"/>
<path d="M38.8 383.8L42.7 379.6L45 374.2L46.5 373L48.1 373.5L50.4 368.1L52.4 361.2L53.5 361.9L55 368.1L57.3 375.8L59.6 381.2L61.9 383.5L64 383.8Z" stroke="none" stroke-width="0" fill="#9dd68f" fill-opacity="0.6"/>
<path d="M38.8 383.8L42.7 379.6L45 374.2L46.5 373L48.1 373.5L50.4 368.1L52.4 361.2L53.5 361.9L55 368.1L57.3 375.8L59.6 381.2L61.9 383.5L64 383.8" stroke="#55b443" stroke-width="1.2" fill="none"/>
<path d="M40 383.8L45 382.7L49.6 379.6L52.7 375L54.2 366.5L55.5 358.1L56.5 355.8L58.1 358.1L60.1 363.5L61.9 369.6L63.5 377.3L65.3 381.9L68.1 383.5L70 383.8Z" stroke="none" stroke-width="0" fill="#8e9fcc" fill-opacity="0.6"/>
<path d="M40 383.8L45 382.7L49.6 379.6L52.7 375L54.2 366.5L55.5 358.1L56.5 355.8L58.1 358.1L60.1 363.5L61.9 369.6L63.5 377.3L65.3 381.9L68.1 383.5L70 383.8" stroke="#3a5ca3" stroke-width="1.2" fill="none"/>
<path d="M44 383.8L48.1 383.5L51.2 381.2L54.2 378.1L56.5 371.9L58.8 367.3L60.7 366.5L62.2 370.4L63.5 378.1L65.3 381.9L67.3 382.2L70.4 383.5L72.7 380.4L75 377.3L77 380.4L78.5 383.5L80 383.8Z" stroke="none" stroke-width="0" fill="#d47f94" fill-opacity="0.6"/>
<path d="M44 383.8L48.1 383.5L51.2 381.2L54.2 378.1L56.5 371.9L58.8 367.3L60.7 366.5L62.2 370.4L63.5 378.1L65.3 381.9L67.3 382.2L70.4 383.5L72.7 380.4L75 377.3L77 380.4L78.5 383.5L80 383.8" stroke="#c62249" stroke-width="1.2" fill="none"/>
<line x1="27.2" y1="383.8" x2="100" y2="383.8" stroke="#231f20" stroke-width="1.2"/>
<line x1="31.3" y1="317.4" x2="41.3" y2="317.4" stroke="#5cb84a" stroke-width="1"/>
<text x="44.8" y="319.6" font-size="7.4" textLength="30.5" lengthAdjust="spacingAndGlyphs">Negative</text>
<line x1="31.3" y1="324.9" x2="41.3" y2="324.9" stroke="#3c5ea0" stroke-width="1"/>
<text x="44.8" y="327" font-size="7.4" textLength="48.3" lengthAdjust="spacingAndGlyphs">Ctrl MFI=1341</text>
<line x1="31.3" y1="333.2" x2="41.3" y2="333.2" stroke="#c8284c" stroke-width="1"/>
<text x="44.8" y="335.1" font-size="7.4" textLength="50" lengthAdjust="spacingAndGlyphs">cKO MFI=3421</text>
<line x1="26.9" y1="391.6" x2="96.5" y2="391.6" stroke="#231f20" stroke-width="1.3"/>
<path d="M94.9 388.7L101.5 391.6L94.9 394.5L96.3 391.6Z" stroke="none" stroke-width="0" fill="#231f20"/>
<text x="64.4" y="402.5" font-size="8.8" text-anchor="middle" textLength="31.6" lengthAdjust="spacingAndGlyphs">p16 (IR)</text>
<line x1="155.7" y1="327.18" x2="155.7" y2="387.35" stroke="#231f20" stroke-width="1.3"/>
<line x1="152.1" y1="330.18" x2="155.7" y2="330.18" stroke="#231f20" stroke-width="1.2"/>
<text x="148.7" y="332.58" font-size="8.2" text-anchor="end" textLength="19.6" lengthAdjust="spacingAndGlyphs">4000</text>
<line x1="152.1" y1="344.31" x2="155.7" y2="344.31" stroke="#231f20" stroke-width="1.2"/>
<text x="148.7" y="346.71" font-size="8.2" text-anchor="end" textLength="19.6" lengthAdjust="spacingAndGlyphs">3000</text>
<line x1="152.1" y1="358.44" x2="155.7" y2="358.44" stroke="#231f20" stroke-width="1.2"/>
<text x="148.7" y="360.84" font-size="8.2" text-anchor="end" textLength="19.6" lengthAdjust="spacingAndGlyphs">2000</text>
<line x1="152.1" y1="372.57" x2="155.7" y2="372.57" stroke="#231f20" stroke-width="1.2"/>
<text x="148.7" y="374.97" font-size="8.2" text-anchor="end" textLength="19.6" lengthAdjust="spacingAndGlyphs">1000</text>
<line x1="152.1" y1="386.7" x2="155.7" y2="386.7" stroke="#231f20" stroke-width="1.2"/>
<text x="148.7" y="389.1" font-size="8.2" text-anchor="end" textLength="4.9" lengthAdjust="spacingAndGlyphs">0</text>
<line x1="154.95" y1="386.7" x2="210" y2="386.7" stroke="#231f20" stroke-width="1.5"/>
<line x1="168.8" y1="386.7" x2="168.8" y2="390.45" stroke="#231f20" stroke-width="1.2"/>
<line x1="196" y1="386.7" x2="196" y2="390.45" stroke="#231f20" stroke-width="1.2"/>
<line x1="163.5" y1="365.4" x2="163.5" y2="358.5" stroke="#231f20" stroke-width="1.15"/>
<line x1="161.33" y1="358.5" x2="165.67" y2="358.5" stroke="#231f20" stroke-width="1.15"/>
<rect x="160" y="365.4" width="7" height="21.3" fill="#2e4c7e"/>
<line x1="173.8" y1="358" x2="173.8" y2="351.3" stroke="#231f20" stroke-width="1.15"/>
<line x1="171.57" y1="351.3" x2="176.03" y2="351.3" stroke="#231f20" stroke-width="1.15"/>
<rect x="170.2" y="358" width="7.2" height="28.7" fill="#a3022a"/>
<line x1="190.75" y1="365" x2="190.75" y2="361.3" stroke="#231f20" stroke-width="1.15"/>
<line x1="188.55" y1="361.3" x2="192.95" y2="361.3" stroke="#231f20" stroke-width="1.15"/>
<rect x="187.2" y="365" width="7.1" height="21.7" fill="#2e4c7e"/>
<line x1="201.1" y1="350.9" x2="201.1" y2="337.4" stroke="#231f20" stroke-width="1.15"/>
<line x1="198.81" y1="337.4" x2="203.39" y2="337.4" stroke="#231f20" stroke-width="1.15"/>
<rect x="197.4" y="350.9" width="7.4" height="35.8" fill="#a3022a"/>
<path d="M163.3 349.1V343.9H174.1V349.1" stroke="#231f20" stroke-width="1.2" fill="none" stroke-linejoin="round"/>
<text x="168.7" y="342.2" font-size="8.4" text-anchor="middle" textLength="8.4" lengthAdjust="spacingAndGlyphs">ns</text>
<path d="M190.9 336.1V331.3H200.9V336.1" stroke="#231f20" stroke-width="1.2" fill="none" stroke-linejoin="round"/>
<path d="M196.3 324.15L196.83 325.42L198.2 325.53L197.16 326.43L197.48 327.77L196.3 327.05L195.12 327.77L195.44 326.43L194.4 325.53L195.77 325.42Z" fill="#231f20"/>
<rect x="154.1" y="300.9" width="15" height="6.5" fill="#2e4c7e"/>
<text x="173" y="307" font-size="8.6" textLength="14.5" lengthAdjust="spacingAndGlyphs">Ctrl</text>
<rect x="154.1" y="311.7" width="15" height="6.5" fill="#a3022a"/>
<text x="173" y="317.6" font-size="8.6" textLength="17.2" lengthAdjust="spacingAndGlyphs">cKO</text>
<text x="123.1" y="356.2" font-size="11" text-anchor="middle" textLength="80.5" lengthAdjust="spacingAndGlyphs" transform="rotate(-90 123.1 356.2)">p16 expression (MFI)</text>
<text x="172.3" y="396.8" font-size="8.6" text-anchor="end" textLength="21.5" lengthAdjust="spacingAndGlyphs" transform="rotate(-45 172.3 396.8)">no IR</text>
<text x="199.5" y="397.2" font-size="8.6" text-anchor="end" textLength="9.3" lengthAdjust="spacingAndGlyphs" transform="rotate(-45 199.5 397.2)">IR</text>
<line x1="275.3" y1="329.2" x2="275.3" y2="387.05" stroke="#231f20" stroke-width="1.3"/>
<line x1="272.1" y1="330.61" x2="275.3" y2="330.61" stroke="#231f20" stroke-width="1.2"/>
<text x="268.4" y="333.41" font-size="7.9" text-anchor="end" textLength="9.5" lengthAdjust="spacingAndGlyphs">35</text>
<line x1="272.1" y1="338.58" x2="275.3" y2="338.58" stroke="#231f20" stroke-width="1.2"/>
<text x="268.4" y="341.38" font-size="7.9" text-anchor="end" textLength="9.5" lengthAdjust="spacingAndGlyphs">30</text>
<line x1="272.1" y1="346.55" x2="275.3" y2="346.55" stroke="#231f20" stroke-width="1.2"/>
<text x="268.4" y="349.35" font-size="7.9" text-anchor="end" textLength="9.5" lengthAdjust="spacingAndGlyphs">25</text>
<line x1="272.1" y1="354.52" x2="275.3" y2="354.52" stroke="#231f20" stroke-width="1.2"/>
<text x="268.4" y="357.32" font-size="7.9" text-anchor="end" textLength="9.5" lengthAdjust="spacingAndGlyphs">20</text>
<line x1="272.1" y1="362.49" x2="275.3" y2="362.49" stroke="#231f20" stroke-width="1.2"/>
<text x="268.4" y="365.29" font-size="7.9" text-anchor="end" textLength="9.5" lengthAdjust="spacingAndGlyphs">15</text>
<line x1="272.1" y1="370.46" x2="275.3" y2="370.46" stroke="#231f20" stroke-width="1.2"/>
<text x="268.4" y="373.26" font-size="7.9" text-anchor="end" textLength="9.5" lengthAdjust="spacingAndGlyphs">10</text>
<line x1="272.1" y1="378.43" x2="275.3" y2="378.43" stroke="#231f20" stroke-width="1.2"/>
<text x="268.4" y="381.23" font-size="7.9" text-anchor="end" textLength="4.75" lengthAdjust="spacingAndGlyphs">5</text>
<line x1="272.1" y1="386.4" x2="275.3" y2="386.4" stroke="#231f20" stroke-width="1.2"/>
<text x="268.4" y="389.2" font-size="7.9" text-anchor="end" textLength="4.75" lengthAdjust="spacingAndGlyphs">0</text>
<line x1="274.55" y1="386.4" x2="358.5" y2="386.4" stroke="#231f20" stroke-width="1.5"/>
<line x1="275.3" y1="386.4" x2="275.3" y2="389.75" stroke="#231f20" stroke-width="1.2"/>
<line x1="286.38" y1="386.4" x2="286.38" y2="389.75" stroke="#231f20" stroke-width="1.2"/>
<line x1="297.46" y1="386.4" x2="297.46" y2="389.75" stroke="#231f20" stroke-width="1.2"/>
<line x1="308.54" y1="386.4" x2="308.54" y2="389.75" stroke="#231f20" stroke-width="1.2"/>
<line x1="319.62" y1="386.4" x2="319.62" y2="389.75" stroke="#231f20" stroke-width="1.2"/>
<line x1="330.7" y1="386.4" x2="330.7" y2="389.75" stroke="#231f20" stroke-width="1.2"/>
<line x1="341.78" y1="386.4" x2="341.78" y2="389.75" stroke="#231f20" stroke-width="1.2"/>
<line x1="352.86" y1="386.4" x2="352.86" y2="389.75" stroke="#231f20" stroke-width="1.2"/>
<text x="277.9" y="396.3" font-size="7.8" text-anchor="end" textLength="5" lengthAdjust="spacingAndGlyphs" transform="rotate(-45 277.9 396.3)">0</text>
<text x="288.98" y="396.3" font-size="7.8" text-anchor="end" textLength="5" lengthAdjust="spacingAndGlyphs" transform="rotate(-45 288.98 396.3)">4</text>
<text x="300.06" y="396.3" font-size="7.8" text-anchor="end" textLength="5" lengthAdjust="spacingAndGlyphs" transform="rotate(-45 300.06 396.3)">8</text>
<text x="311.14" y="396.3" font-size="7.8" text-anchor="end" textLength="10" lengthAdjust="spacingAndGlyphs" transform="rotate(-45 311.14 396.3)">12</text>
<text x="322.22" y="396.3" font-size="7.8" text-anchor="end" textLength="10" lengthAdjust="spacingAndGlyphs" transform="rotate(-45 322.22 396.3)">16</text>
<text x="333.3" y="396.3" font-size="7.8" text-anchor="end" textLength="10" lengthAdjust="spacingAndGlyphs" transform="rotate(-45 333.3 396.3)">20</text>
<text x="344.38" y="396.3" font-size="7.8" text-anchor="end" textLength="10" lengthAdjust="spacingAndGlyphs" transform="rotate(-45 344.38 396.3)">24</text>
<text x="355.46" y="396.3" font-size="7.8" text-anchor="end" textLength="10" lengthAdjust="spacingAndGlyphs" transform="rotate(-45 355.46 396.3)">28</text>
<path d="M275.3 366.63L286.38 375.56L297.46 382.26L308.54 369.18L316.85 341.45L325.16 353.72L344.55 366.95" stroke="#2a4e98" stroke-width="1.1" fill="none"/>
<circle cx="275.3" cy="366.63" r="1.4" fill="#2a4e98"/>
<circle cx="286.38" cy="375.56" r="1.4" fill="#2a4e98"/>
<circle cx="297.46" cy="382.26" r="1.4" fill="#2a4e98"/>
<circle cx="308.54" cy="369.18" r="1.4" fill="#2a4e98"/>
<circle cx="316.85" cy="341.45" r="1.4" fill="#2a4e98"/>
<circle cx="325.16" cy="353.72" r="1.4" fill="#2a4e98"/>
<circle cx="344.55" cy="366.95" r="1.4" fill="#2a4e98"/>
<line x1="275.3" y1="368.23" x2="275.3" y2="364.72" stroke="#2a4e98" stroke-width="0.9"/>
<line x1="273.7" y1="368.23" x2="276.9" y2="368.23" stroke="#2a4e98" stroke-width="0.9"/>
<line x1="273.7" y1="364.72" x2="276.9" y2="364.72" stroke="#2a4e98" stroke-width="0.9"/>
<line x1="308.54" y1="371.1" x2="308.54" y2="366.63" stroke="#2a4e98" stroke-width="0.9"/>
<line x1="306.94" y1="371.1" x2="310.14" y2="371.1" stroke="#2a4e98" stroke-width="0.9"/>
<line x1="306.94" y1="366.63" x2="310.14" y2="366.63" stroke="#2a4e98" stroke-width="0.9"/>
<line x1="316.85" y1="345.27" x2="316.85" y2="336.83" stroke="#2a4e98" stroke-width="0.9"/>
<line x1="315.25" y1="345.27" x2="318.45" y2="345.27" stroke="#2a4e98" stroke-width="0.9"/>
<line x1="315.25" y1="336.83" x2="318.45" y2="336.83" stroke="#2a4e98" stroke-width="0.9"/>
<line x1="325.16" y1="355.16" x2="325.16" y2="351.97" stroke="#2a4e98" stroke-width="0.9"/>
<line x1="323.56" y1="355.16" x2="326.76" y2="355.16" stroke="#2a4e98" stroke-width="0.9"/>
<line x1="323.56" y1="351.97" x2="326.76" y2="351.97" stroke="#2a4e98" stroke-width="0.9"/>
<line x1="344.55" y1="368.55" x2="344.55" y2="365.04" stroke="#2a4e98" stroke-width="0.9"/>
<line x1="342.95" y1="368.55" x2="346.15" y2="368.55" stroke="#2a4e98" stroke-width="0.9"/>
<line x1="342.95" y1="365.04" x2="346.15" y2="365.04" stroke="#2a4e98" stroke-width="0.9"/>
<path d="M275.3 369.18L286.38 376.04L297.46 382.26L308.54 372.37L316.85 357.39L325.16 360.74L344.55 367.75" stroke="#b8123e" stroke-width="1.1" fill="none"/>
<circle cx="275.3" cy="369.18" r="1.4" fill="#b8123e"/>
<circle cx="286.38" cy="376.04" r="1.4" fill="#b8123e"/>
<circle cx="297.46" cy="382.26" r="1.4" fill="#b8123e"/>
<circle cx="308.54" cy="372.37" r="1.4" fill="#b8123e"/>
<circle cx="316.85" cy="357.39" r="1.4" fill="#b8123e"/>
<circle cx="325.16" cy="360.74" r="1.4" fill="#b8123e"/>
<circle cx="344.55" cy="367.75" r="1.4" fill="#b8123e"/>
<line x1="275.3" y1="370.78" x2="275.3" y2="367.27" stroke="#b8123e" stroke-width="0.9"/>
<line x1="273.7" y1="370.78" x2="276.9" y2="370.78" stroke="#b8123e" stroke-width="0.9"/>
<line x1="273.7" y1="367.27" x2="276.9" y2="367.27" stroke="#b8123e" stroke-width="0.9"/>
<line x1="286.38" y1="378.11" x2="286.38" y2="373.97" stroke="#b8123e" stroke-width="0.9"/>
<line x1="284.78" y1="378.11" x2="287.98" y2="378.11" stroke="#b8123e" stroke-width="0.9"/>
<line x1="284.78" y1="373.97" x2="287.98" y2="373.97" stroke="#b8123e" stroke-width="0.9"/>
<line x1="325.16" y1="363.77" x2="325.16" y2="357.71" stroke="#b8123e" stroke-width="0.9"/>
<line x1="323.56" y1="363.77" x2="326.76" y2="363.77" stroke="#b8123e" stroke-width="0.9"/>
<line x1="323.56" y1="357.71" x2="326.76" y2="357.71" stroke="#b8123e" stroke-width="0.9"/>
<line x1="344.55" y1="371.74" x2="344.55" y2="363.77" stroke="#b8123e" stroke-width="0.9"/>
<line x1="342.95" y1="371.74" x2="346.15" y2="371.74" stroke="#b8123e" stroke-width="0.9"/>
<line x1="342.95" y1="363.77" x2="346.15" y2="363.77" stroke="#b8123e" stroke-width="0.9"/>
<line x1="323.1" y1="332.5" x2="338.5" y2="332.5" stroke="#2a4e98" stroke-width="1.1"/>
<circle cx="330.8" cy="332.5" r="1.4" fill="#2a4e98"/>
<text x="342.3" y="335.4" font-size="9.6" textLength="14" lengthAdjust="spacingAndGlyphs">Ctrl</text>
<line x1="323.1" y1="345.2" x2="338.5" y2="345.2" stroke="#b8123e" stroke-width="1.1"/>
<circle cx="330.8" cy="345.2" r="1.4" fill="#b8123e"/>
<text x="342.3" y="348.5" font-size="9.6" textLength="17.5" lengthAdjust="spacingAndGlyphs">cKO</text>
<path d="M315.8 365.25L316.33 366.52L317.7 366.63L316.66 367.53L316.98 368.87L315.8 368.15L314.62 368.87L314.94 367.53L313.9 366.63L315.27 366.52Z" fill="#231f20"/>
<path d="M320 365.25L320.53 366.52L321.9 366.63L320.86 367.53L321.18 368.87L320 368.15L318.82 368.87L319.14 367.53L318.1 366.63L319.47 366.52Z" fill="#231f20"/>
<path d="M324.2 365.25L324.73 366.52L326.1 366.63L325.06 367.53L325.38 368.87L324.2 368.15L323.02 368.87L323.34 367.53L322.3 366.63L323.67 366.52Z" fill="#231f20"/>
<path d="M323.1 370.85L323.63 372.12L325 372.23L323.96 373.13L324.28 374.47L323.1 373.75L321.92 374.47L322.24 373.13L321.2 372.23L322.57 372.12Z" fill="#231f20"/>
<path d="M327.3 370.85L327.83 372.12L329.2 372.23L328.16 373.13L328.48 374.47L327.3 373.75L326.12 374.47L326.44 373.13L325.4 372.23L326.77 372.12Z" fill="#231f20"/>
<path d="M331.5 370.85L332.03 372.12L333.4 372.23L332.36 373.13L332.68 374.47L331.5 373.75L330.32 374.47L330.64 373.13L329.6 372.23L330.97 372.12Z" fill="#231f20"/>
<path d="M308.8 376.05L309.33 377.32L310.7 377.43L309.66 378.33L309.98 379.67L308.8 378.95L307.62 379.67L307.94 378.33L306.9 377.43L308.27 377.32Z" fill="#231f20"/>
<text x="317.2" y="418.6" font-size="10.8" text-anchor="middle" textLength="57.6" lengthAdjust="spacingAndGlyphs">Days after 5-FU</text>
<text x="0" y="0" transform="translate(252.9 356.9) rotate(-90) translate(-28.6 0) scale(0.8693 1)"><tspan font-size="10.4" dy="0">WBC (x10</tspan><tspan font-size="6.76" dy="-3.6">3</tspan><tspan font-size="10.4" dy="3.6">/&#956;l)</tspan></text>
<line x1="423.3" y1="328.5" x2="423.3" y2="387.55" stroke="#231f20" stroke-width="1.3"/>
<line x1="419.7" y1="331.5" x2="423.3" y2="331.5" stroke="#231f20" stroke-width="1.2"/>
<text x="416.3" y="333.9" font-size="8.2" text-anchor="end" textLength="14.7" lengthAdjust="spacingAndGlyphs">100</text>
<line x1="419.7" y1="342.58" x2="423.3" y2="342.58" stroke="#231f20" stroke-width="1.2"/>
<text x="416.3" y="344.98" font-size="8.2" text-anchor="end" textLength="9.8" lengthAdjust="spacingAndGlyphs">80</text>
<line x1="419.7" y1="353.66" x2="423.3" y2="353.66" stroke="#231f20" stroke-width="1.2"/>
<text x="416.3" y="356.06" font-size="8.2" text-anchor="end" textLength="9.8" lengthAdjust="spacingAndGlyphs">60</text>
<line x1="419.7" y1="364.74" x2="423.3" y2="364.74" stroke="#231f20" stroke-width="1.2"/>
<text x="416.3" y="367.14" font-size="8.2" text-anchor="end" textLength="9.8" lengthAdjust="spacingAndGlyphs">40</text>
<line x1="419.7" y1="375.82" x2="423.3" y2="375.82" stroke="#231f20" stroke-width="1.2"/>
<text x="416.3" y="378.22" font-size="8.2" text-anchor="end" textLength="9.8" lengthAdjust="spacingAndGlyphs">20</text>
<line x1="419.7" y1="386.9" x2="423.3" y2="386.9" stroke="#231f20" stroke-width="1.2"/>
<text x="416.3" y="389.3" font-size="8.2" text-anchor="end" textLength="4.9" lengthAdjust="spacingAndGlyphs">0</text>
<line x1="422.55" y1="386.9" x2="510.2" y2="386.9" stroke="#231f20" stroke-width="1.5"/>
<line x1="423.3" y1="386.9" x2="423.3" y2="390.65" stroke="#231f20" stroke-width="1.2"/>
<line x1="437.23" y1="386.9" x2="437.23" y2="390.65" stroke="#231f20" stroke-width="1.2"/>
<line x1="451.16" y1="386.9" x2="451.16" y2="390.65" stroke="#231f20" stroke-width="1.2"/>
<line x1="465.09" y1="386.9" x2="465.09" y2="390.65" stroke="#231f20" stroke-width="1.2"/>
<line x1="479.02" y1="386.9" x2="479.02" y2="390.65" stroke="#231f20" stroke-width="1.2"/>
<line x1="492.95" y1="386.9" x2="492.95" y2="390.65" stroke="#231f20" stroke-width="1.2"/>
<line x1="506.88" y1="386.9" x2="506.88" y2="390.65" stroke="#231f20" stroke-width="1.2"/>
<text x="423.3" y="401.5" font-size="8.4" text-anchor="middle" textLength="4.9" lengthAdjust="spacingAndGlyphs">0</text>
<text x="437.23" y="401.5" font-size="8.4" text-anchor="middle" textLength="9.8" lengthAdjust="spacingAndGlyphs">10</text>
<text x="451.16" y="401.5" font-size="8.4" text-anchor="middle" textLength="9.8" lengthAdjust="spacingAndGlyphs">20</text>
<text x="465.09" y="401.5" font-size="8.4" text-anchor="middle" textLength="9.8" lengthAdjust="spacingAndGlyphs">30</text>
<text x="479.02" y="401.5" font-size="8.4" text-anchor="middle" textLength="9.8" lengthAdjust="spacingAndGlyphs">40</text>
<text x="492.95" y="401.5" font-size="8.4" text-anchor="middle" textLength="9.8" lengthAdjust="spacingAndGlyphs">50</text>
<text x="506.88" y="401.5" font-size="8.4" text-anchor="middle" textLength="9.8" lengthAdjust="spacingAndGlyphs">60</text>
<path d="M423.3 331.5H488.7V336.11H504.4" stroke="#2b4f98" stroke-width="1.35" fill="none"/>
<line x1="504.4" y1="333.61" x2="504.4" y2="336.11" stroke="#2b4f98" stroke-width="1"/>
<path d="M423.3 331.5H431.0V341.58H432.8V351.67H456.7V356.71H466.0V361.69H477.9V366.73H487.1V371.78H501.2V376.82H504.4" stroke="#b8153f" stroke-width="1.35" fill="none"/>
<line x1="504.4" y1="374.32" x2="504.4" y2="376.82" stroke="#b8153f" stroke-width="1"/>
<path d="M506.2 335H510.1V377H506.2" stroke="#231f20" stroke-width="1.3" fill="none"/>
<path d="M500.9 352.85L501.43 354.12L502.8 354.23L501.76 355.13L502.08 356.47L500.9 355.75L499.72 356.47L500.04 355.13L499 354.23L500.37 354.12Z" fill="#231f20"/>
<path d="M505.1 352.85L505.63 354.12L507 354.23L505.96 355.13L506.28 356.47L505.1 355.75L503.92 356.47L504.24 355.13L503.2 354.23L504.57 354.12Z" fill="#231f20"/>
<line x1="423.3" y1="304.5" x2="438.3" y2="304.5" stroke="#2b4f98" stroke-width="1.1"/>
<line x1="430.8" y1="301.6" x2="430.8" y2="304.5" stroke="#2b4f98" stroke-width="1"/>
<text x="442.5" y="305.6" font-size="8.6" textLength="41.8" lengthAdjust="spacingAndGlyphs">Ctrl (n=12)</text>
<line x1="423.3" y1="317.5" x2="438.3" y2="317.5" stroke="#b8153f" stroke-width="1.1"/>
<line x1="430.8" y1="314.6" x2="430.8" y2="317.5" stroke="#b8153f" stroke-width="1"/>
<text x="442.5" y="318.4" font-size="8.6" textLength="43.8" lengthAdjust="spacingAndGlyphs">cKO (n=11)</text>
<text x="395" y="356.4" font-size="10.9" text-anchor="middle" textLength="62.4" lengthAdjust="spacingAndGlyphs" transform="rotate(-90 395 356.4)">Survival rate (%)</text>
<line x1="432.9" y1="412" x2="432.9" y2="421.7" stroke="#231f20" stroke-width="1.25"/>
<path d="M432.9 408.0L430.8 414.2L435 414.2Z" stroke="none" stroke-width="0" fill="#231f20"/>
<line x1="451.3" y1="412" x2="451.3" y2="421.7" stroke="#231f20" stroke-width="1.25"/>
<path d="M451.3 408.0L449.2 414.2L453.4 414.2Z" stroke="none" stroke-width="0" fill="#231f20"/>
<line x1="466.1" y1="412" x2="466.1" y2="421.7" stroke="#231f20" stroke-width="1.25"/>
<path d="M466.1 408.0L464 414.2L468.2 414.2Z" stroke="none" stroke-width="0" fill="#231f20"/>
<text x="451.5" y="434.1" font-size="10" text-anchor="middle" textLength="53.8" lengthAdjust="spacingAndGlyphs">5-FU5-FU5-FU</text>
<line x1="56.1" y1="479" x2="56.1" y2="538.75" stroke="#231f20" stroke-width="1.3"/>
<line x1="52.5" y1="482" x2="56.1" y2="482" stroke="#231f20" stroke-width="1.2"/>
<text x="49.1" y="484.4" font-size="8.2" text-anchor="end" textLength="14.7" lengthAdjust="spacingAndGlyphs">100</text>
<line x1="52.5" y1="493.22" x2="56.1" y2="493.22" stroke="#231f20" stroke-width="1.2"/>
<text x="49.1" y="495.62" font-size="8.2" text-anchor="end" textLength="9.8" lengthAdjust="spacingAndGlyphs">80</text>
<line x1="52.5" y1="504.44" x2="56.1" y2="504.44" stroke="#231f20" stroke-width="1.2"/>
<text x="49.1" y="506.84" font-size="8.2" text-anchor="end" textLength="9.8" lengthAdjust="spacingAndGlyphs">60</text>
<line x1="52.5" y1="515.66" x2="56.1" y2="515.66" stroke="#231f20" stroke-width="1.2"/>
<text x="49.1" y="518.06" font-size="8.2" text-anchor="end" textLength="9.8" lengthAdjust="spacingAndGlyphs">40</text>
<line x1="52.5" y1="526.88" x2="56.1" y2="526.88" stroke="#231f20" stroke-width="1.2"/>
<text x="49.1" y="529.28" font-size="8.2" text-anchor="end" textLength="9.8" lengthAdjust="spacingAndGlyphs">20</text>
<line x1="52.5" y1="538.1" x2="56.1" y2="538.1" stroke="#231f20" stroke-width="1.2"/>
<text x="49.1" y="540.5" font-size="8.2" text-anchor="end" textLength="4.9" lengthAdjust="spacingAndGlyphs">0</text>
<line x1="55.35" y1="538.1" x2="112.4" y2="538.1" stroke="#231f20" stroke-width="1.5"/>
<line x1="65.4" y1="538.1" x2="65.4" y2="541.85" stroke="#231f20" stroke-width="1.2"/>
<line x1="84.6" y1="538.1" x2="84.6" y2="541.85" stroke="#231f20" stroke-width="1.2"/>
<line x1="102.3" y1="538.1" x2="102.3" y2="541.85" stroke="#231f20" stroke-width="1.2"/>
<line x1="62.55" y1="513.9" x2="62.55" y2="513.2" stroke="#231f20" stroke-width="1.15"/>
<line x1="60.97" y1="513.2" x2="64.13" y2="513.2" stroke="#231f20" stroke-width="1.15"/>
<rect x="60" y="513.9" width="5.1" height="24.2" fill="#2e4c7e"/>
<line x1="69.45" y1="524.7" x2="69.45" y2="521.9" stroke="#231f20" stroke-width="1.15"/>
<line x1="67.87" y1="521.9" x2="71.03" y2="521.9" stroke="#231f20" stroke-width="1.15"/>
<rect x="66.9" y="524.7" width="5.1" height="13.4" fill="#a3022a"/>
<line x1="80.55" y1="508.5" x2="80.55" y2="508" stroke="#231f20" stroke-width="1.15"/>
<line x1="78.97" y1="508" x2="82.13" y2="508" stroke="#231f20" stroke-width="1.15"/>
<rect x="78" y="508.5" width="5.1" height="29.6" fill="#2e4c7e"/>
<line x1="87.45" y1="497.7" x2="87.45" y2="495.4" stroke="#231f20" stroke-width="1.15"/>
<line x1="85.87" y1="495.4" x2="89.03" y2="495.4" stroke="#231f20" stroke-width="1.15"/>
<rect x="84.9" y="497.7" width="5.1" height="40.4" fill="#a3022a"/>
<path d="M96.9 538.1C96.9 534.9 101.6 534.9 101.6 538.1Z" fill="#2e4c7e"/>
<path d="M103.6 538.1C103.6 534.9 108.5 534.9 108.5 538.1Z" fill="#a3022a"/>
<path d="M62.3 512V508.1H69.7V512" stroke="#231f20" stroke-width="1.2" fill="none" stroke-linejoin="round"/>
<path d="M80.8 493.5V489.2H87.7V493.5" stroke="#231f20" stroke-width="1.2" fill="none" stroke-linejoin="round"/>
<path d="M62 501.75L62.53 503.02L63.9 503.13L62.86 504.03L63.18 505.37L62 504.65L60.82 505.37L61.14 504.03L60.1 503.13L61.47 503.02Z" fill="#231f20"/>
<path d="M66.2 501.75L66.73 503.02L68.1 503.13L67.06 504.03L67.38 505.37L66.2 504.65L65.02 505.37L65.34 504.03L64.3 503.13L65.67 503.02Z" fill="#231f20"/>
<path d="M70.4 501.75L70.93 503.02L72.3 503.13L71.26 504.03L71.58 505.37L70.4 504.65L69.22 505.37L69.54 504.03L68.5 503.13L69.87 503.02Z" fill="#231f20"/>
<path d="M80 482.75L80.53 484.02L81.9 484.13L80.86 485.03L81.18 486.37L80 485.65L78.82 486.37L79.14 485.03L78.1 484.13L79.47 484.02Z" fill="#231f20"/>
<path d="M84.2 482.75L84.73 484.02L86.1 484.13L85.06 485.03L85.38 486.37L84.2 485.65L83.02 486.37L83.34 485.03L82.3 484.13L83.67 484.02Z" fill="#231f20"/>
<path d="M88.4 482.75L88.93 484.02L90.3 484.13L89.26 485.03L89.58 486.37L88.4 485.65L87.22 486.37L87.54 485.03L86.5 484.13L87.87 484.02Z" fill="#231f20"/>
<rect x="61.2" y="455.7" width="15.4" height="6.5" fill="#2e4c7e"/>
<text x="80.3" y="461.5" font-size="8.6" textLength="14.5" lengthAdjust="spacingAndGlyphs">Ctrl</text>
<rect x="61.2" y="467" width="15.4" height="6.5" fill="#a3022a"/>
<text x="80.3" y="472.3" font-size="8.6" textLength="17.2" lengthAdjust="spacingAndGlyphs">cKO</text>
<text x="27.4" y="508.2" font-size="9.6" text-anchor="middle" textLength="40.5" lengthAdjust="spacingAndGlyphs" transform="rotate(-90 27.4 508.2)">LT-HSC (%)</text>
<text x="0" y="0" transform="translate(69.3 548.4) rotate(-45) translate(-10.75 0) scale(1.0000 1)"><tspan font-size="9" dy="0">G</tspan><tspan font-size="6.75" dy="1.4">0</tspan></text>
<text x="0" y="0" transform="translate(87.4 548.6) rotate(-45) translate(-10.75 0) scale(1.0000 1)"><tspan font-size="9" dy="0">G</tspan><tspan font-size="6.75" dy="1.4">1</tspan></text>
<text x="0" y="0" transform="translate(106.3 548.2) rotate(-45) translate(-33 0) scale(1.1377 1)"><tspan font-size="9" dy="0">S/G</tspan><tspan font-size="6.3" dy="1.5">2</tspan><tspan font-size="9" dy="-1.5">/M</tspan></text>
<text x="84.6" y="586.9" font-size="10.6" text-anchor="middle" textLength="58.2" lengthAdjust="spacingAndGlyphs">5-FU treatment</text>
<line x1="184.2" y1="476.08" x2="184.2" y2="538.45" stroke="#231f20" stroke-width="1.3"/>
<line x1="180.6" y1="479.08" x2="184.2" y2="479.08" stroke="#231f20" stroke-width="1.2"/>
<text x="177.2" y="481.48" font-size="8.2" text-anchor="end" textLength="9.8" lengthAdjust="spacingAndGlyphs">16</text>
<line x1="180.6" y1="493.76" x2="184.2" y2="493.76" stroke="#231f20" stroke-width="1.2"/>
<text x="177.2" y="496.16" font-size="8.2" text-anchor="end" textLength="9.8" lengthAdjust="spacingAndGlyphs">12</text>
<line x1="180.6" y1="508.44" x2="184.2" y2="508.44" stroke="#231f20" stroke-width="1.2"/>
<text x="177.2" y="510.84" font-size="8.2" text-anchor="end" textLength="4.9" lengthAdjust="spacingAndGlyphs">8</text>
<line x1="180.6" y1="523.12" x2="184.2" y2="523.12" stroke="#231f20" stroke-width="1.2"/>
<text x="177.2" y="525.52" font-size="8.2" text-anchor="end" textLength="4.9" lengthAdjust="spacingAndGlyphs">4</text>
<line x1="180.6" y1="537.8" x2="184.2" y2="537.8" stroke="#231f20" stroke-width="1.2"/>
<text x="177.2" y="540.2" font-size="8.2" text-anchor="end" textLength="4.9" lengthAdjust="spacingAndGlyphs">0</text>
<line x1="183.45" y1="537.8" x2="223.1" y2="537.8" stroke="#231f20" stroke-width="1.5"/>
<line x1="194.4" y1="537.8" x2="194.4" y2="541.55" stroke="#231f20" stroke-width="1.2"/>
<line x1="213.5" y1="537.8" x2="213.5" y2="541.55" stroke="#231f20" stroke-width="1.2"/>
<line x1="194.4" y1="506.6" x2="194.4" y2="502.6" stroke="#231f20" stroke-width="1.15"/>
<line x1="190.56" y1="502.6" x2="198.24" y2="502.6" stroke="#231f20" stroke-width="1.15"/>
<rect x="188.2" y="506.6" width="12.4" height="31.2" fill="#2e4c7e"/>
<line x1="213.45" y1="487.6" x2="213.45" y2="481" stroke="#231f20" stroke-width="1.15"/>
<line x1="209.57" y1="481" x2="217.32" y2="481" stroke="#231f20" stroke-width="1.15"/>
<rect x="207.2" y="487.6" width="12.5" height="50.2" fill="#a3022a"/>
<path d="M194.8 479.2V474.6H213V478.4" stroke="#231f20" stroke-width="1.2" fill="none" stroke-linejoin="round"/>
<path d="M204.1 467.85L204.63 469.12L206 469.23L204.96 470.13L205.28 471.47L204.1 470.75L202.92 471.47L203.24 470.13L202.2 469.23L203.57 469.12Z" fill="#231f20"/>
<text x="0" y="0" transform="translate(147.4 507) rotate(-90) translate(-31.25 0) scale(0.8038 1)"><tspan font-size="10.6" dy="0">C</tspan><tspan font-size="7.42" dy="1.9">12</tspan><tspan font-size="10.6" dy="-1.9">FDG-positive</tspan></text>
<text x="162" y="507.2" font-size="10.6" text-anchor="middle" textLength="32" lengthAdjust="spacingAndGlyphs" transform="rotate(-90 162 507.2)">cells (%)</text>
<text x="197.6" y="547.5" font-size="8.6" text-anchor="end" textLength="16.8" lengthAdjust="spacingAndGlyphs" transform="rotate(-45 197.6 547.5)">Ctrl</text>
<text x="217.4" y="547.6" font-size="8.6" text-anchor="end" textLength="20" lengthAdjust="spacingAndGlyphs" transform="rotate(-45 217.4 547.6)">cKO</text>
<text x="204.1" y="575.9" font-size="10.6" text-anchor="middle" textLength="58.4" lengthAdjust="spacingAndGlyphs">5-FU treatment</text>
<line x1="304.6" y1="479.3" x2="304.6" y2="538.95" stroke="#231f20" stroke-width="1.3"/>
<line x1="301" y1="482.3" x2="304.6" y2="482.3" stroke="#231f20" stroke-width="1.2"/>
<text x="297.6" y="484.7" font-size="8.2" text-anchor="end" textLength="19.6" lengthAdjust="spacingAndGlyphs">8000</text>
<line x1="301" y1="496.3" x2="304.6" y2="496.3" stroke="#231f20" stroke-width="1.2"/>
<text x="297.6" y="498.7" font-size="8.2" text-anchor="end" textLength="19.6" lengthAdjust="spacingAndGlyphs">6000</text>
<line x1="301" y1="510.3" x2="304.6" y2="510.3" stroke="#231f20" stroke-width="1.2"/>
<text x="297.6" y="512.7" font-size="8.2" text-anchor="end" textLength="19.6" lengthAdjust="spacingAndGlyphs">4000</text>
<line x1="301" y1="524.3" x2="304.6" y2="524.3" stroke="#231f20" stroke-width="1.2"/>
<text x="297.6" y="526.7" font-size="8.2" text-anchor="end" textLength="19.6" lengthAdjust="spacingAndGlyphs">2000</text>
<line x1="301" y1="538.3" x2="304.6" y2="538.3" stroke="#231f20" stroke-width="1.2"/>
<text x="297.6" y="540.7" font-size="8.2" text-anchor="end" textLength="4.9" lengthAdjust="spacingAndGlyphs">0</text>
<line x1="303.85" y1="538.3" x2="341.8" y2="538.3" stroke="#231f20" stroke-width="1.5"/>
<line x1="314" y1="538.3" x2="314" y2="542.05" stroke="#231f20" stroke-width="1.2"/>
<line x1="332.5" y1="538.3" x2="332.5" y2="542.05" stroke="#231f20" stroke-width="1.2"/>
<line x1="314.05" y1="521.6" x2="314.05" y2="518.9" stroke="#231f20" stroke-width="1.15"/>
<line x1="310.24" y1="518.9" x2="317.86" y2="518.9" stroke="#231f20" stroke-width="1.15"/>
<rect x="307.9" y="521.6" width="12.3" height="16.7" fill="#2e4c7e"/>
<line x1="332.5" y1="502.7" x2="332.5" y2="496.5" stroke="#231f20" stroke-width="1.15"/>
<line x1="328.59" y1="496.5" x2="336.41" y2="496.5" stroke="#231f20" stroke-width="1.15"/>
<rect x="326.2" y="502.7" width="12.6" height="35.6" fill="#a3022a"/>
<path d="M314 493.9V489.3H332.9V493.9" stroke="#231f20" stroke-width="1.2" fill="none" stroke-linejoin="round"/>
<path d="M323.5 483.25L324.03 484.52L325.4 484.63L324.36 485.53L324.68 486.87L323.5 486.15L322.32 486.87L322.64 485.53L321.6 484.63L322.97 484.52Z" fill="#231f20"/>
<text x="272.8" y="507.3" font-size="10.6" text-anchor="middle" textLength="84.3" lengthAdjust="spacingAndGlyphs" transform="rotate(-90 272.8 507.3)">p16 expression (MFI)</text>
<text x="316.8" y="547.9" font-size="8.6" text-anchor="end" textLength="16.8" lengthAdjust="spacingAndGlyphs" transform="rotate(-45 316.8 547.9)">Ctrl</text>
<text x="335.4" y="548" font-size="8.6" text-anchor="end" textLength="20" lengthAdjust="spacingAndGlyphs" transform="rotate(-45 335.4 548)">cKO</text>
<text x="323.9" y="575.9" font-size="10.6" text-anchor="middle" textLength="57.8" lengthAdjust="spacingAndGlyphs">5-FU treatment</text>
<rect x="0" y="0" width="520" height="598" fill="none" stroke="#000" stroke-width="2.8"/>
</svg></body></html>
